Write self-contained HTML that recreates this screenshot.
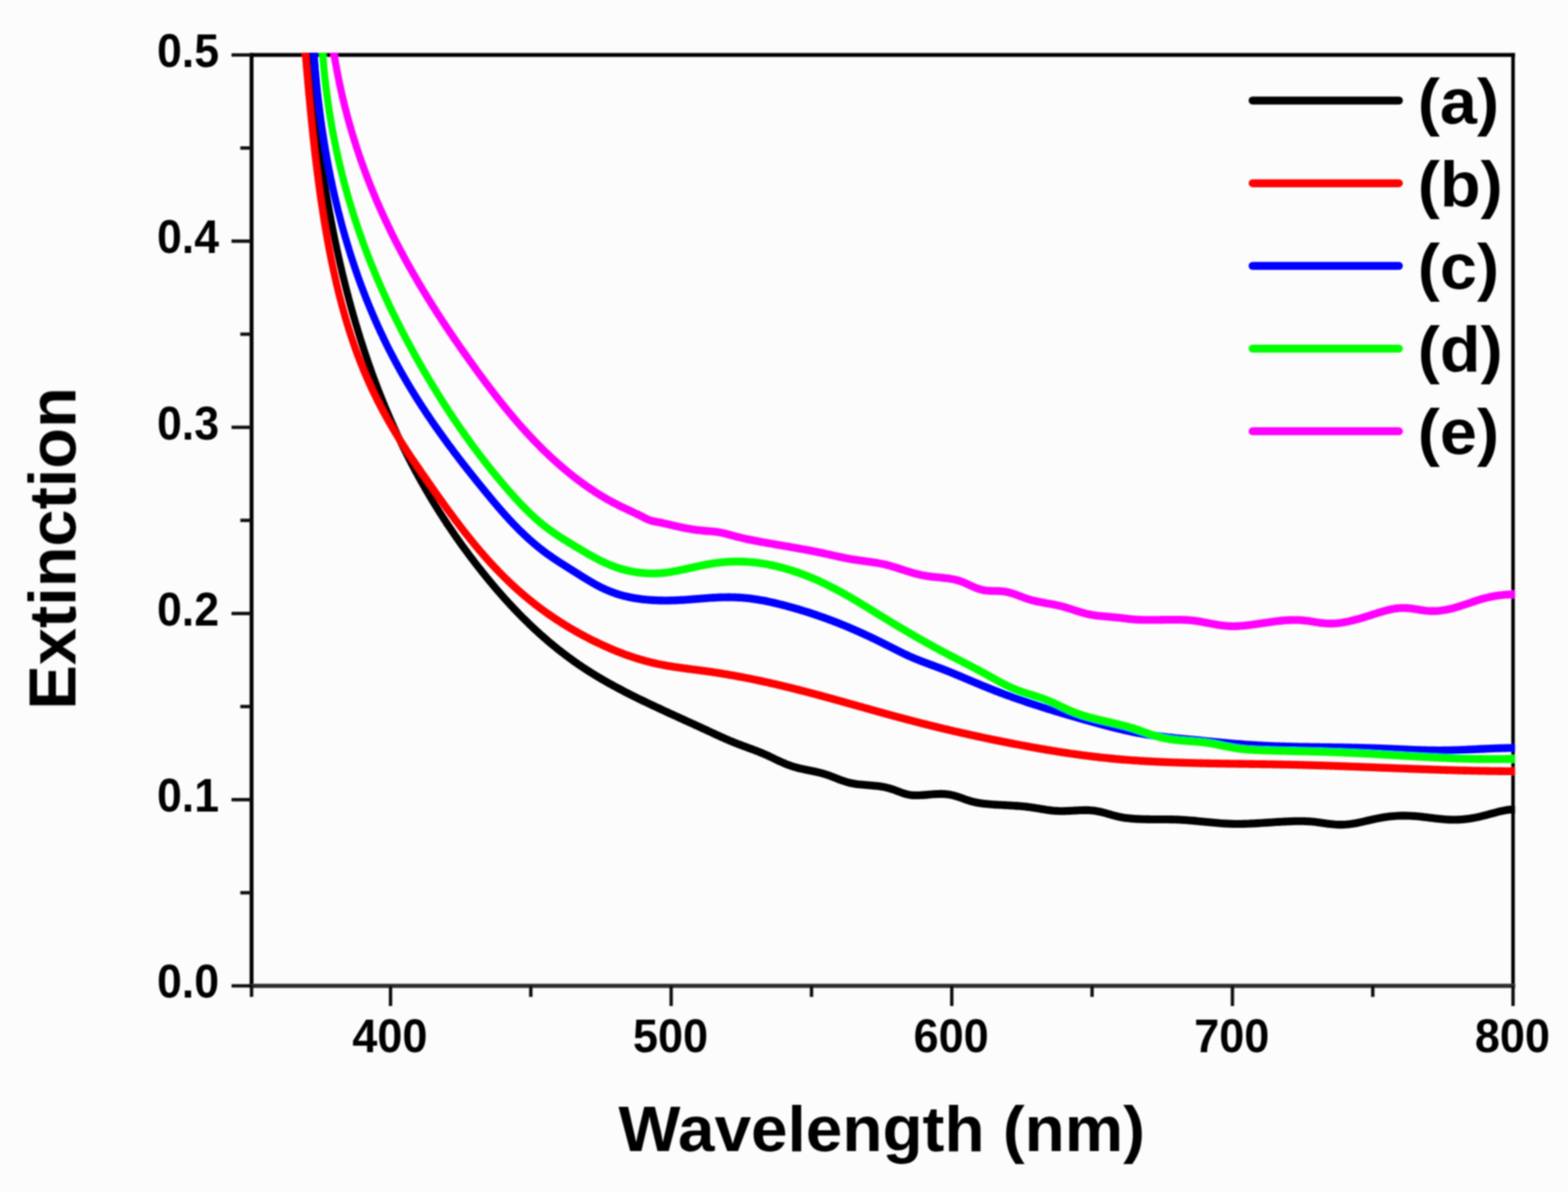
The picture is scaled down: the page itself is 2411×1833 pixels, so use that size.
<!DOCTYPE html>
<html><head><meta charset="utf-8"><title>Extinction spectra</title>
<style>
html,body{margin:0;padding:0;background:#fcfcfc;}
svg{display:block;}
text{font-family:"Liberation Sans",Arial,sans-serif;font-weight:bold;fill:#000;}
</style></head>
<body>
<svg width="2411" height="1833" viewBox="0 0 2411 1833" xmlns="http://www.w3.org/2000/svg">
<defs><filter id="soft" x="0" y="0" width="2411" height="1833" filterUnits="userSpaceOnUse"><feGaussianBlur stdDeviation="1.1"/></filter><clipPath id="plot"><rect x="383.8" y="81" width="1945.7" height="1435"/></clipPath></defs>
<rect width="2411" height="1833" fill="#fcfcfc"/>
<g filter="url(#soft)">
<g fill="none" stroke-linecap="square">
<line x1="386.8" y1="84.5" x2="2326.5" y2="84.5" stroke="#000" stroke-width="6"/>
<line x1="386.8" y1="84.5" x2="386.8" y2="1516" stroke="#000" stroke-width="6"/>
<line x1="2326.5" y1="84.5" x2="2326.5" y2="1516" stroke="#000" stroke-width="5.5"/>
<line x1="386.8" y1="1516" x2="2326.5" y2="1516" stroke="#2e2e2e" stroke-width="6.5"/>
</g>
<g stroke="#111" stroke-width="5.2">
<line x1="356" y1="1516.0" x2="386.8" y2="1516.0"/>
<line x1="369.5" y1="1372.8" x2="386.8" y2="1372.8"/>
<line x1="356" y1="1229.7" x2="386.8" y2="1229.7"/>
<line x1="369.5" y1="1086.5" x2="386.8" y2="1086.5"/>
<line x1="356" y1="943.4" x2="386.8" y2="943.4"/>
<line x1="369.5" y1="800.2" x2="386.8" y2="800.2"/>
<line x1="356" y1="657.1" x2="386.8" y2="657.1"/>
<line x1="369.5" y1="513.9" x2="386.8" y2="513.9"/>
<line x1="356" y1="370.8" x2="386.8" y2="370.8"/>
<line x1="369.5" y1="227.6" x2="386.8" y2="227.6"/>
<line x1="356" y1="84.5" x2="386.8" y2="84.5"/>
<line x1="386.8" y1="1516.0" x2="386.8" y2="1533"/>
<line x1="600.5" y1="1516.0" x2="600.5" y2="1547"/>
<line x1="816.2" y1="1516.0" x2="816.2" y2="1533"/>
<line x1="1032.0" y1="1516.0" x2="1032.0" y2="1547"/>
<line x1="1247.8" y1="1516.0" x2="1247.8" y2="1533"/>
<line x1="1463.5" y1="1516.0" x2="1463.5" y2="1547"/>
<line x1="1679.2" y1="1516.0" x2="1679.2" y2="1533"/>
<line x1="1895.0" y1="1516.0" x2="1895.0" y2="1547"/>
<line x1="2110.8" y1="1516.0" x2="2110.8" y2="1533"/>
<line x1="2326.5" y1="1516.0" x2="2326.5" y2="1547"/>
</g>
<g clip-path="url(#plot)"><g transform="scale(1,1.1)" fill="none" stroke-width="11.0" stroke-linejoin="round" stroke-linecap="round">
<path d="M474.8,53.17 L475.0,55.73 L475.1,58.29 L475.3,60.84 L475.5,63.39 L475.7,65.94 L475.9,68.49 L476.1,71.04 L476.3,73.58 L476.5,76.12 L476.7,78.66 L476.9,81.19 L477.2,83.73 L477.4,86.26 L477.6,88.79 L477.8,91.31 L478.0,93.84 L478.3,96.36 L478.5,98.88 L478.7,101.39 L479.0,103.91 L479.2,106.42 L479.4,108.93 L479.7,111.43 L479.9,113.94 L480.2,116.44 L480.4,118.94 L480.7,121.44 L480.9,123.93 L481.2,126.42 L481.5,128.91 L481.7,131.40 L482.0,133.88 L482.3,136.37 L482.5,138.85 L482.8,141.32 L483.1,143.80 L483.4,146.27 L483.6,148.74 L483.9,151.21 L484.2,153.67 L484.5,156.13 L484.8,158.59 L485.1,161.05 L485.4,163.51 L485.7,165.96 L486.0,168.41 L486.3,170.85 L486.6,173.30 L486.9,175.74 L487.3,178.18 L487.6,180.62 L487.9,183.05 L488.2,185.48 L488.6,187.91 L488.9,190.34 L489.2,192.76 L489.6,195.19 L489.9,197.60 L490.2,200.02 L490.6,202.43 L490.9,204.85 L491.3,207.25 L491.6,209.66 L492.0,212.06 L492.3,214.47 L492.7,216.86 L493.1,219.26 L493.4,221.65 L493.8,224.04 L494.2,226.43 L494.6,228.82 L494.9,231.20 L495.3,233.58 L495.7,235.96 L496.1,238.33 L496.5,240.70 L496.9,243.07 L497.3,245.44 L497.7,247.80 L498.1,250.17 L498.5,252.52 L498.9,254.88 L499.3,257.23 L499.7,259.59 L500.1,261.93 L500.6,264.28 L501.0,266.62 L501.4,268.96 L501.8,271.30 L502.3,273.64 L502.7,275.97 L503.1,278.30 L503.6,280.62 L504.0,282.95 L504.5,285.27 L504.9,287.59 L505.4,289.90 L505.8,292.22 L506.3,294.53 L506.7,296.84 L507.2,299.14 L507.7,301.44 L508.1,303.74 L508.6,306.04 L509.1,308.34 L509.6,310.63 L510.1,312.92 L510.5,315.20 L511.0,317.48 L511.5,319.77 L512.0,322.04 L512.5,324.32 L513.0,326.59 L513.5,328.86 L514.0,331.13 L514.5,333.39 L515.0,335.65 L515.6,337.91 L516.1,340.17 L516.6,342.42 L517.1,344.67 L517.7,346.91 L518.2,349.16 L518.7,351.40 L519.3,353.64 L519.8,355.88 L520.3,358.11 L520.9,360.34 L521.4,362.57 L522.0,364.79 L522.5,367.01 L523.1,369.23 L523.7,371.45 L524.2,373.66 L524.8,375.87 L525.4,378.08 L525.9,380.28 L526.5,382.48 L527.1,384.68 L527.7,386.88 L528.3,389.07 L528.9,391.26 L529.5,393.45 L530.1,395.63 L530.7,397.82 L531.3,400.00 L531.9,402.17 L532.5,404.34 L533.1,406.51 L533.7,408.68 L534.3,410.85 L535.0,413.01 L535.6,415.17 L536.2,417.32 L536.8,419.47 L537.5,421.62 L538.1,423.77 L538.8,425.91 L539.4,428.05 L540.0,430.19 L540.7,432.33 L541.4,434.46 L542.0,436.59 L542.7,438.71 L543.3,440.84 L544.0,442.96 L544.7,445.08 L545.4,447.19 L546.0,449.30 L546.7,451.41 L547.4,453.51 L548.1,455.62 L548.8,457.72 L549.5,459.81 L550.2,461.91 L550.9,464.00 L551.6,466.08 L552.3,468.17 L553.0,470.25 L553.7,472.33 L554.4,474.40 L555.1,476.48 L555.9,478.54 L556.6,480.61 L557.3,482.67 L558.1,484.73 L558.8,486.79 L559.5,488.85 L560.3,490.90 L561.0,492.94 L561.8,494.99 L562.5,497.03 L563.3,499.07 L564.0,501.11 L564.8,503.14 L565.6,505.17 L566.3,507.20 L567.1,509.22 L567.9,511.24 L568.7,513.26 L569.5,515.27 L570.2,517.28 L571.0,519.29 L571.8,521.29 L572.6,523.30 L573.4,525.29 L574.2,527.29 L575.0,529.28 L575.9,531.27 L576.7,533.26 L577.5,535.24 L578.3,537.22 L579.1,539.20 L580.0,541.17 L580.8,543.14 L581.6,545.11 L582.5,547.07 L583.3,549.04 L584.2,550.99 L585.0,552.95 L585.9,554.90 L586.7,556.85 L587.6,558.79 L588.5,560.74 L589.3,562.67 L590.2,564.61 L591.1,566.54 L591.9,568.47 L592.8,570.40 L593.7,572.32 L594.6,574.24 L595.5,576.16 L596.4,578.07 L597.3,579.98 L598.2,581.89 L599.1,583.79 L600.0,585.69 L600.9,587.59 L601.8,589.48 L602.7,591.37 L603.7,593.26 L604.6,595.15 L605.5,597.03 L606.5,598.90 L607.4,600.78 L608.3,602.65 L609.3,604.52 L610.2,606.38 L611.2,608.24 L612.1,610.10 L613.1,611.96 L614.1,613.81 L615.0,615.66 L616.0,617.50 L617.0,619.35 L618.0,621.19 L618.9,623.02 L619.9,624.85 L620.9,626.68 L621.9,628.51 L622.9,630.33 L623.9,632.15 L624.9,633.97 L625.9,635.78 L626.9,637.59 L627.9,639.40 L628.9,641.20 L630.0,643.01 L631.0,644.80 L632.0,646.60 L633.0,648.39 L634.1,650.18 L635.1,651.96 L636.1,653.74 L637.2,655.52 L638.2,657.30 L639.3,659.07 L640.3,660.84 L641.4,662.61 L642.5,664.37 L643.5,666.13 L644.6,667.89 L645.7,669.64 L646.7,671.39 L647.8,673.14 L648.9,674.88 L650.0,676.62 L651.1,678.36 L652.2,680.10 L653.2,681.83 L654.3,683.56 L655.4,685.28 L656.6,687.01 L657.7,688.73 L658.8,690.44 L659.9,692.16 L661.0,693.87 L662.1,695.58 L663.3,697.28 L664.4,698.98 L665.5,700.68 L666.6,702.38 L667.8,704.07 L668.9,705.76 L670.1,707.44 L671.2,709.13 L672.4,710.81 L673.5,712.48 L674.7,714.16 L675.8,715.83 L677.0,717.50 L678.2,719.16 L679.4,720.83 L680.5,722.48 L681.7,724.14 L682.9,725.79 L684.1,727.44 L685.3,729.09 L686.4,730.74 L687.6,732.38 L688.8,734.02 L690.0,735.65 L691.2,737.28 L692.5,738.91 L693.7,740.54 L694.9,742.16 L696.1,743.78 L697.3,745.40 L698.5,747.02 L699.8,748.63 L701.0,750.24 L702.2,751.84 L703.5,753.45 L704.7,755.05 L706.0,756.64 L707.2,758.24 L708.4,759.83 L709.7,761.42 L711.0,763.00 L712.2,764.58 L713.5,766.16 L714.7,767.74 L716.0,769.32 L717.3,770.89 L718.6,772.45 L719.8,774.02 L721.1,775.58 L722.4,777.14 L723.7,778.70 L725.0,780.25 L726.3,781.80 L727.6,783.35 L728.9,784.90 L730.2,786.44 L731.5,787.98 L732.8,789.52 L734.1,791.05 L735.4,792.58 L736.7,794.11 L738.1,795.63 L739.4,797.16 L740.7,798.68 L742.0,800.19 L743.4,801.71 L744.7,803.22 L746.1,804.73 L747.4,806.23 L748.8,807.74 L750.1,809.24 L751.5,810.73 L752.8,812.23 L754.2,813.72 L755.5,815.20 L756.9,816.69 L758.3,818.17 L759.6,819.65 L761.0,821.12 L762.4,822.59 L763.8,824.06 L765.2,825.53 L766.6,826.99 L768.0,828.45 L769.4,829.90 L770.8,831.35 L772.2,832.80 L773.6,834.25 L775.0,835.69 L776.4,837.13 L777.8,838.56 L779.3,839.99 L780.7,841.42 L782.1,842.84 L783.6,844.26 L785.0,845.68 L786.5,847.09 L787.9,848.50 L789.4,849.91 L790.8,851.31 L792.3,852.70 L793.8,854.10 L795.2,855.49 L796.7,856.87 L798.2,858.26 L799.7,859.63 L801.2,861.01 L802.6,862.38 L804.1,863.74 L805.6,865.10 L807.2,866.46 L808.7,867.82 L810.2,869.17 L811.7,870.51 L813.2,871.85 L814.8,873.19 L816.3,874.52 L817.8,875.85 L819.4,877.17 L820.9,878.49 L822.5,879.81 L824.0,881.12 L825.6,882.42 L827.2,883.72 L828.7,885.02 L830.3,886.31 L831.9,887.60 L833.5,888.89 L835.1,890.16 L836.7,891.44 L838.3,892.71 L839.9,893.97 L841.5,895.23 L843.1,896.49 L844.7,897.74 L846.4,898.98 L848.0,900.22 L849.7,901.46 L851.3,902.69 L853.0,903.92 L854.6,905.14 L856.3,906.35 L857.9,907.56 L859.6,908.77 L861.3,909.97 L863.0,911.17 L864.7,912.36 L866.4,913.54 L868.1,914.72 L869.8,915.90 L871.5,917.07 L873.2,918.23 L874.9,919.39 L876.7,920.54 L878.4,921.69 L880.1,922.83 L881.9,923.97 L883.6,925.10 L885.4,926.23 L887.2,927.35 L888.9,928.47 L890.7,929.58 L892.5,930.68 L894.3,931.78 L896.1,932.87 L897.9,933.96 L899.7,935.04 L901.5,936.12 L903.4,937.19 L905.2,938.25 L907.0,939.31 L908.9,940.36 L910.7,941.41 L912.6,942.45 L914.4,943.49 L916.3,944.52 L918.2,945.55 L920.0,946.57 L921.9,947.58 L923.8,948.59 L925.7,949.60 L927.6,950.60 L929.5,951.60 L931.4,952.59 L933.3,953.58 L935.2,954.56 L937.2,955.54 L939.1,956.51 L941.0,957.48 L943.0,958.44 L944.9,959.41 L946.9,960.36 L948.8,961.32 L950.8,962.27 L952.7,963.21 L954.7,964.15 L956.7,965.09 L958.6,966.02 L960.6,966.96 L962.6,967.88 L964.6,968.81 L966.6,969.73 L968.5,970.65 L970.5,971.56 L972.5,972.47 L974.5,973.38 L976.5,974.29 L978.6,975.19 L980.6,976.09 L982.6,976.99 L984.6,977.88 L986.6,978.77 L988.6,979.66 L990.7,980.55 L992.7,981.44 L994.7,982.32 L996.7,983.20 L998.8,984.08 L1000.8,984.96 L1002.8,985.83 L1004.9,986.70 L1006.9,987.57 L1009.0,988.44 L1011.0,989.31 L1013.1,990.18 L1015.1,991.05 L1017.2,991.91 L1019.2,992.77 L1021.3,993.63 L1023.3,994.49 L1025.4,995.35 L1027.4,996.21 L1029.5,997.07 L1031.5,997.93 L1033.6,998.78 L1035.7,999.64 L1037.7,1000.49 L1039.8,1001.35 L1041.8,1002.20 L1043.9,1003.05 L1046.0,1003.91 L1048.0,1004.76 L1050.1,1005.61 L1052.1,1006.47 L1054.2,1007.32 L1056.3,1008.17 L1058.3,1009.03 L1060.4,1009.88 L1062.4,1010.74 L1064.5,1011.59 L1066.6,1012.45 L1068.6,1013.30 L1070.7,1014.16 L1072.7,1015.01 L1074.8,1015.87 L1076.9,1016.73 L1078.9,1017.59 L1081.0,1018.45 L1083.0,1019.31 L1085.1,1020.18 L1087.1,1021.04 L1089.2,1021.91 L1091.2,1022.77 L1093.3,1023.64 L1095.3,1024.51 L1097.4,1025.37 L1099.4,1026.23 L1101.5,1027.10 L1103.5,1027.95 L1105.6,1028.81 L1107.6,1029.66 L1109.7,1030.51 L1111.8,1031.35 L1113.8,1032.19 L1115.9,1033.03 L1118.0,1033.85 L1120.1,1034.67 L1122.2,1035.49 L1124.3,1036.29 L1126.5,1037.09 L1128.6,1037.88 L1130.7,1038.66 L1132.9,1039.42 L1135.1,1040.18 L1137.2,1040.94 L1139.4,1041.68 L1141.6,1042.42 L1143.8,1043.16 L1146.0,1043.89 L1148.2,1044.62 L1150.4,1045.35 L1152.6,1046.08 L1154.8,1046.82 L1156.9,1047.55 L1159.1,1048.30 L1161.3,1049.05 L1163.5,1049.80 L1165.6,1050.57 L1167.8,1051.34 L1169.9,1052.13 L1172.0,1052.93 L1174.1,1053.75 L1176.2,1054.58 L1178.3,1055.42 L1180.4,1056.28 L1182.4,1057.14 L1184.4,1058.02 L1186.5,1058.90 L1188.5,1059.78 L1190.5,1060.67 L1192.6,1061.55 L1194.6,1062.43 L1196.6,1063.30 L1198.7,1064.17 L1200.7,1065.02 L1202.8,1065.86 L1204.9,1066.69 L1207.0,1067.50 L1209.1,1068.29 L1211.3,1069.06 L1213.5,1069.80 L1215.7,1070.52 L1217.9,1071.21 L1220.2,1071.86 L1222.5,1072.49 L1224.9,1073.08 L1227.3,1073.64 L1229.7,1074.17 L1232.1,1074.68 L1234.6,1075.17 L1237.0,1075.65 L1239.5,1076.12 L1242.0,1076.58 L1244.5,1077.04 L1247.0,1077.50 L1249.5,1077.96 L1252.0,1078.43 L1254.5,1078.91 L1256.9,1079.41 L1259.3,1079.93 L1261.7,1080.48 L1264.1,1081.05 L1266.4,1081.65 L1268.7,1082.29 L1271.0,1082.96 L1273.2,1083.66 L1275.4,1084.38 L1277.6,1085.12 L1279.8,1085.88 L1282.0,1086.64 L1284.1,1087.41 L1286.3,1088.17 L1288.4,1088.94 L1290.6,1089.69 L1292.8,1090.43 L1295.0,1091.15 L1297.2,1091.85 L1299.5,1092.52 L1301.8,1093.16 L1304.1,1093.76 L1306.5,1094.32 L1308.9,1094.83 L1311.4,1095.30 L1314.0,1095.70 L1316.6,1096.06 L1319.2,1096.38 L1321.9,1096.65 L1324.7,1096.90 L1327.4,1097.12 L1330.2,1097.33 L1333.0,1097.52 L1335.8,1097.71 L1338.6,1097.90 L1341.3,1098.11 L1344.1,1098.33 L1346.8,1098.57 L1349.5,1098.84 L1352.2,1099.15 L1354.8,1099.50 L1357.4,1099.90 L1359.9,1100.35 L1362.3,1100.85 L1364.7,1101.39 L1367.1,1101.98 L1369.4,1102.61 L1371.7,1103.26 L1373.9,1103.94 L1376.1,1104.65 L1378.3,1105.38 L1380.5,1106.12 L1382.7,1106.87 L1384.9,1107.61 L1387.1,1108.34 L1389.3,1109.03 L1391.6,1109.67 L1394.0,1110.26 L1396.4,1110.77 L1398.9,1111.20 L1401.6,1111.52 L1404.3,1111.74 L1407.2,1111.84 L1410.2,1111.86 L1413.3,1111.79 L1416.4,1111.65 L1419.6,1111.47 L1422.9,1111.24 L1426.2,1111.00 L1429.4,1110.74 L1432.7,1110.50 L1436.0,1110.27 L1439.2,1110.08 L1442.3,1109.94 L1445.4,1109.86 L1448.4,1109.86 L1451.3,1109.95 L1454.1,1110.14 L1456.8,1110.41 L1459.4,1110.77 L1461.9,1111.19 L1464.4,1111.68 L1466.8,1112.22 L1469.2,1112.82 L1471.5,1113.45 L1473.7,1114.11 L1476.0,1114.80 L1478.2,1115.51 L1480.4,1116.23 L1482.6,1116.95 L1484.8,1117.66 L1487.1,1118.36 L1489.3,1119.04 L1491.6,1119.69 L1493.9,1120.30 L1496.3,1120.87 L1498.7,1121.39 L1501.2,1121.86 L1503.7,1122.29 L1506.3,1122.68 L1508.9,1123.03 L1511.6,1123.35 L1514.3,1123.64 L1517.0,1123.90 L1519.7,1124.13 L1522.5,1124.34 L1525.3,1124.53 L1528.1,1124.71 L1530.9,1124.87 L1533.7,1125.02 L1536.6,1125.16 L1539.4,1125.30 L1542.3,1125.44 L1545.1,1125.58 L1548.0,1125.72 L1550.8,1125.86 L1553.6,1126.01 L1556.5,1126.17 L1559.3,1126.33 L1562.1,1126.51 L1564.9,1126.69 L1567.7,1126.89 L1570.4,1127.11 L1573.2,1127.34 L1575.9,1127.58 L1578.6,1127.85 L1581.3,1128.14 L1584.0,1128.45 L1586.6,1128.78 L1589.2,1129.13 L1591.8,1129.51 L1594.4,1129.89 L1596.9,1130.28 L1599.5,1130.68 L1602.1,1131.07 L1604.7,1131.46 L1607.2,1131.84 L1609.8,1132.19 L1612.5,1132.53 L1615.1,1132.84 L1617.8,1133.12 L1620.6,1133.36 L1623.3,1133.56 L1626.2,1133.71 L1629.1,1133.82 L1632.0,1133.86 L1635.0,1133.85 L1638.1,1133.79 L1641.2,1133.69 L1644.3,1133.55 L1647.5,1133.40 L1650.7,1133.24 L1653.9,1133.07 L1657.0,1132.92 L1660.2,1132.78 L1663.3,1132.67 L1666.4,1132.60 L1669.4,1132.58 L1672.4,1132.62 L1675.3,1132.72 L1678.1,1132.90 L1680.8,1133.15 L1683.5,1133.46 L1686.0,1133.83 L1688.6,1134.26 L1691.1,1134.73 L1693.5,1135.24 L1695.9,1135.78 L1698.3,1136.35 L1700.6,1136.93 L1703.0,1137.54 L1705.3,1138.15 L1707.6,1138.76 L1710.0,1139.37 L1712.3,1139.96 L1714.7,1140.54 L1717.1,1141.09 L1719.5,1141.61 L1721.9,1142.10 L1724.5,1142.54 L1727.0,1142.95 L1729.6,1143.31 L1732.3,1143.64 L1734.9,1143.93 L1737.7,1144.18 L1740.4,1144.41 L1743.2,1144.61 L1746.0,1144.78 L1748.8,1144.92 L1751.7,1145.04 L1754.6,1145.14 L1757.5,1145.23 L1760.4,1145.29 L1763.4,1145.34 L1766.3,1145.38 L1769.3,1145.40 L1772.3,1145.42 L1775.3,1145.43 L1778.3,1145.44 L1781.3,1145.45 L1784.3,1145.45 L1787.3,1145.46 L1790.2,1145.47 L1793.2,1145.48 L1796.2,1145.51 L1799.2,1145.54 L1802.1,1145.59 L1805.0,1145.65 L1808.0,1145.72 L1810.9,1145.82 L1813.7,1145.93 L1816.6,1146.07 L1819.4,1146.22 L1822.2,1146.38 L1825.0,1146.57 L1827.8,1146.76 L1830.6,1146.97 L1833.4,1147.18 L1836.1,1147.41 L1838.9,1147.64 L1841.6,1147.88 L1844.3,1148.13 L1847.0,1148.38 L1849.8,1148.63 L1852.5,1148.88 L1855.2,1149.12 L1858.0,1149.37 L1860.7,1149.61 L1863.4,1149.85 L1866.2,1150.08 L1868.9,1150.30 L1871.7,1150.52 L1874.5,1150.72 L1877.3,1150.91 L1880.1,1151.08 L1882.9,1151.24 L1885.7,1151.38 L1888.6,1151.51 L1891.5,1151.62 L1894.4,1151.70 L1897.3,1151.76 L1900.3,1151.80 L1903.3,1151.81 L1906.3,1151.80 L1909.3,1151.76 L1912.4,1151.71 L1915.5,1151.63 L1918.6,1151.53 L1921.7,1151.42 L1924.8,1151.29 L1928.0,1151.14 L1931.2,1150.99 L1934.4,1150.82 L1937.5,1150.65 L1940.7,1150.47 L1943.9,1150.28 L1947.2,1150.09 L1950.4,1149.90 L1953.6,1149.71 L1956.8,1149.52 L1960.0,1149.34 L1963.2,1149.15 L1966.4,1148.98 L1969.6,1148.81 L1972.7,1148.66 L1975.9,1148.51 L1979.0,1148.38 L1982.2,1148.26 L1985.3,1148.17 L1988.4,1148.08 L1991.4,1148.02 L1994.5,1147.98 L1997.5,1147.97 L2000.5,1147.98 L2003.4,1148.02 L2006.4,1148.08 L2009.3,1148.18 L2012.1,1148.30 L2014.9,1148.46 L2017.7,1148.66 L2020.5,1148.89 L2023.2,1149.16 L2025.8,1149.46 L2028.5,1149.79 L2031.1,1150.13 L2033.7,1150.47 L2036.4,1150.82 L2039.0,1151.17 L2041.6,1151.50 L2044.3,1151.81 L2047.0,1152.10 L2049.7,1152.35 L2052.4,1152.56 L2055.3,1152.72 L2058.1,1152.83 L2061.1,1152.87 L2064.1,1152.85 L2067.2,1152.74 L2070.4,1152.56 L2073.7,1152.28 L2077.2,1151.91 L2080.7,1151.43 L2084.3,1150.85 L2088.0,1150.19 L2091.8,1149.47 L2095.7,1148.70 L2099.6,1147.90 L2103.5,1147.08 L2107.4,1146.26 L2111.2,1145.46 L2115.1,1144.70 L2118.9,1143.99 L2122.6,1143.34 L2126.2,1142.76 L2129.8,1142.25 L2133.3,1141.81 L2136.7,1141.43 L2140.0,1141.11 L2143.3,1140.85 L2146.6,1140.64 L2149.7,1140.49 L2152.8,1140.38 L2155.9,1140.32 L2158.9,1140.30 L2161.9,1140.33 L2164.8,1140.39 L2167.7,1140.49 L2170.6,1140.62 L2173.4,1140.77 L2176.2,1140.96 L2179.0,1141.17 L2181.7,1141.40 L2184.4,1141.66 L2187.1,1141.92 L2189.8,1142.20 L2192.5,1142.49 L2195.2,1142.79 L2197.9,1143.09 L2200.5,1143.40 L2203.2,1143.70 L2205.9,1144.00 L2208.5,1144.29 L2211.2,1144.57 L2213.9,1144.84 L2216.7,1145.08 L2219.4,1145.30 L2222.2,1145.49 L2225.0,1145.65 L2227.9,1145.78 L2230.8,1145.87 L2233.8,1145.92 L2236.7,1145.92 L2239.8,1145.87 L2242.9,1145.77 L2246.1,1145.62 L2249.3,1145.40 L2252.6,1145.12 L2256.0,1144.77 L2259.5,1144.36 L2263.0,1143.86 L2266.6,1143.29 L2270.4,1142.64 L2274.2,1141.90 L2278.1,1141.07 L2282.1,1140.16 L2286.2,1139.18 L2290.3,1138.17 L2294.4,1137.15 L2298.5,1136.15 L2302.6,1135.18 L2306.5,1134.29 L2310.4,1133.49 L2314.2,1132.80 L2317.8,1132.26 L2321.2,1131.89 L2324.4,1131.72 L2327.3,1131.77 L2329.8,1132.02" stroke="#000000"/>
<path d="M467.8,55.33 L468.0,57.85 L468.2,60.37 L468.5,62.89 L468.7,65.41 L468.9,67.93 L469.2,70.45 L469.4,72.97 L469.6,75.49 L469.8,78.01 L470.1,80.52 L470.3,83.04 L470.5,85.56 L470.8,88.07 L471.0,90.58 L471.2,93.10 L471.5,95.61 L471.7,98.12 L472.0,100.63 L472.2,103.14 L472.4,105.65 L472.7,108.16 L472.9,110.67 L473.2,113.18 L473.4,115.68 L473.6,118.19 L473.9,120.69 L474.1,123.20 L474.4,125.70 L474.6,128.20 L474.9,130.70 L475.1,133.20 L475.4,135.69 L475.6,138.19 L475.9,140.68 L476.2,143.18 L476.4,145.67 L476.7,148.16 L476.9,150.65 L477.2,153.14 L477.5,155.63 L477.7,158.11 L478.0,160.60 L478.3,163.08 L478.5,165.56 L478.8,168.04 L479.1,170.52 L479.4,172.99 L479.6,175.47 L479.9,177.94 L480.2,180.41 L480.5,182.88 L480.8,185.35 L481.1,187.82 L481.3,190.29 L481.6,192.75 L481.9,195.21 L482.2,197.67 L482.5,200.13 L482.8,202.58 L483.1,205.04 L483.4,207.49 L483.7,209.94 L484.0,212.39 L484.3,214.83 L484.6,217.28 L485.0,219.72 L485.3,222.16 L485.6,224.60 L485.9,227.03 L486.2,229.47 L486.6,231.90 L486.9,234.33 L487.2,236.75 L487.6,239.18 L487.9,241.60 L488.2,244.02 L488.6,246.44 L488.9,248.85 L489.3,251.27 L489.6,253.68 L490.0,256.08 L490.3,258.49 L490.7,260.89 L491.0,263.29 L491.4,265.69 L491.8,268.09 L492.1,270.48 L492.5,272.87 L492.9,275.26 L493.2,277.64 L493.6,280.02 L494.0,282.40 L494.4,284.78 L494.8,287.15 L495.2,289.53 L495.6,291.89 L496.0,294.26 L496.4,296.62 L496.8,298.98 L497.2,301.34 L497.6,303.69 L498.0,306.04 L498.4,308.39 L498.8,310.73 L499.3,313.08 L499.7,315.41 L500.1,317.75 L500.6,320.08 L501.0,322.41 L501.4,324.74 L501.9,327.06 L502.3,329.38 L502.8,331.69 L503.2,334.01 L503.7,336.32 L504.2,338.62 L504.6,340.92 L505.1,343.22 L505.6,345.52 L506.1,347.81 L506.5,350.10 L507.0,352.39 L507.5,354.67 L508.0,356.95 L508.5,359.22 L509.0,361.49 L509.5,363.76 L510.0,366.02 L510.5,368.28 L511.1,370.54 L511.6,372.79 L512.1,375.04 L512.6,377.28 L513.2,379.53 L513.7,381.76 L514.3,384.00 L514.8,386.23 L515.4,388.45 L515.9,390.67 L516.5,392.89 L517.0,395.10 L517.6,397.31 L518.2,399.52 L518.8,401.72 L519.3,403.92 L519.9,406.11 L520.5,408.30 L521.1,410.48 L521.7,412.66 L522.3,414.84 L522.9,417.01 L523.6,419.18 L524.2,421.34 L524.8,423.50 L525.4,425.66 L526.1,427.81 L526.7,429.95 L527.4,432.09 L528.0,434.23 L528.7,436.36 L529.3,438.49 L530.0,440.61 L530.6,442.73 L531.3,444.85 L532.0,446.96 L532.7,449.06 L533.4,451.16 L534.1,453.26 L534.8,455.35 L535.5,457.43 L536.2,459.51 L536.9,461.59 L537.6,463.66 L538.4,465.73 L539.1,467.79 L539.8,469.85 L540.6,471.90 L541.3,473.94 L542.1,475.99 L542.8,478.02 L543.6,480.06 L544.4,482.08 L545.1,484.10 L545.9,486.12 L546.7,488.13 L547.5,490.14 L548.3,492.14 L549.1,494.13 L549.9,496.12 L550.7,498.11 L551.6,500.09 L552.4,502.06 L553.2,504.03 L554.1,506.00 L554.9,507.95 L555.8,509.91 L556.6,511.85 L557.5,513.80 L558.3,515.73 L559.2,517.66 L560.1,519.59 L561.0,521.51 L561.9,523.43 L562.8,525.34 L563.7,527.24 L564.6,529.14 L565.5,531.03 L566.4,532.92 L567.4,534.81 L568.3,536.69 L569.2,538.56 L570.2,540.43 L571.1,542.29 L572.1,544.15 L573.0,546.00 L574.0,547.85 L575.0,549.70 L576.0,551.53 L576.9,553.37 L577.9,555.20 L578.9,557.02 L579.9,558.84 L580.9,560.65 L581.9,562.46 L583.0,564.27 L584.0,566.07 L585.0,567.86 L586.0,569.65 L587.1,571.44 L588.1,573.22 L589.2,574.99 L590.2,576.77 L591.3,578.53 L592.3,580.30 L593.4,582.05 L594.5,583.81 L595.5,585.55 L596.6,587.30 L597.7,589.04 L598.8,590.77 L599.9,592.50 L601.0,594.23 L602.1,595.95 L603.2,597.67 L604.3,599.38 L605.5,601.09 L606.6,602.79 L607.7,604.49 L608.8,606.19 L610.0,607.88 L611.1,609.57 L612.3,611.25 L613.4,612.93 L614.6,614.61 L615.7,616.28 L616.9,617.95 L618.1,619.62 L619.2,621.28 L620.4,622.94 L621.6,624.60 L622.8,626.25 L624.0,627.90 L625.1,629.55 L626.3,631.19 L627.5,632.84 L628.7,634.48 L629.9,636.12 L631.1,637.75 L632.3,639.38 L633.5,641.02 L634.7,642.64 L636.0,644.27 L637.2,645.90 L638.4,647.52 L639.6,649.14 L640.8,650.76 L642.0,652.38 L643.3,654.00 L644.5,655.61 L645.7,657.23 L646.9,658.84 L648.2,660.46 L649.4,662.07 L650.6,663.68 L651.8,665.29 L653.1,666.90 L654.3,668.51 L655.5,670.12 L656.8,671.73 L658.0,673.33 L659.2,674.94 L660.5,676.55 L661.7,678.15 L662.9,679.76 L664.2,681.36 L665.4,682.97 L666.6,684.57 L667.9,686.17 L669.1,687.77 L670.3,689.37 L671.6,690.97 L672.8,692.57 L674.1,694.16 L675.3,695.76 L676.6,697.35 L677.8,698.95 L679.1,700.54 L680.3,702.13 L681.6,703.71 L682.8,705.30 L684.1,706.88 L685.3,708.47 L686.6,710.05 L687.9,711.63 L689.1,713.21 L690.4,714.78 L691.7,716.36 L692.9,717.93 L694.2,719.50 L695.5,721.07 L696.8,722.63 L698.0,724.20 L699.3,725.76 L700.6,727.32 L701.9,728.87 L703.2,730.43 L704.5,731.98 L705.8,733.53 L707.1,735.08 L708.4,736.62 L709.7,738.16 L711.0,739.70 L712.3,741.24 L713.6,742.77 L714.9,744.30 L716.2,745.83 L717.6,747.36 L718.9,748.88 L720.2,750.40 L721.5,751.91 L722.9,753.43 L724.2,754.94 L725.6,756.44 L726.9,757.95 L728.3,759.45 L729.6,760.94 L731.0,762.43 L732.3,763.92 L733.7,765.41 L735.1,766.89 L736.4,768.37 L737.8,769.84 L739.2,771.32 L740.6,772.78 L742.0,774.25 L743.4,775.71 L744.8,777.16 L746.2,778.61 L747.6,780.06 L749.0,781.50 L750.4,782.94 L751.8,784.38 L753.3,785.81 L754.7,787.23 L756.1,788.66 L757.6,790.07 L759.0,791.49 L760.5,792.90 L761.9,794.30 L763.4,795.70 L764.9,797.09 L766.3,798.48 L767.8,799.87 L769.3,801.25 L770.8,802.63 L772.3,804.00 L773.8,805.36 L775.3,806.72 L776.8,808.08 L778.3,809.43 L779.8,810.77 L781.3,812.11 L782.9,813.45 L784.4,814.78 L785.9,816.10 L787.5,817.42 L789.0,818.73 L790.6,820.04 L792.2,821.34 L793.8,822.64 L795.3,823.93 L796.9,825.21 L798.5,826.49 L800.1,827.77 L801.7,829.03 L803.3,830.30 L804.9,831.55 L806.6,832.80 L808.2,834.05 L809.8,835.29 L811.5,836.52 L813.1,837.75 L814.8,838.97 L816.4,840.19 L818.1,841.40 L819.8,842.61 L821.5,843.81 L823.2,845.00 L824.8,846.19 L826.5,847.37 L828.3,848.55 L830.0,849.72 L831.7,850.88 L833.4,852.04 L835.1,853.19 L836.9,854.34 L838.6,855.48 L840.4,856.62 L842.1,857.75 L843.9,858.87 L845.7,859.99 L847.4,861.10 L849.2,862.21 L851.0,863.31 L852.8,864.41 L854.6,865.49 L856.4,866.58 L858.2,867.65 L860.1,868.73 L861.9,869.79 L863.7,870.85 L865.6,871.90 L867.4,872.95 L869.3,873.99 L871.1,875.03 L873.0,876.06 L874.9,877.08 L876.7,878.10 L878.6,879.11 L880.5,880.11 L882.4,881.11 L884.3,882.11 L886.2,883.09 L888.2,884.08 L890.1,885.05 L892.0,886.02 L894.0,886.98 L895.9,887.94 L897.9,888.89 L899.8,889.84 L901.8,890.78 L903.8,891.71 L905.8,892.63 L907.7,893.55 L909.7,894.47 L911.7,895.38 L913.7,896.28 L915.8,897.17 L917.8,898.06 L919.8,898.95 L921.8,899.82 L923.9,900.70 L925.9,901.56 L928.0,902.42 L930.1,903.27 L932.1,904.12 L934.2,904.96 L936.3,905.79 L938.4,906.61 L940.5,907.43 L942.6,908.24 L944.7,909.04 L946.8,909.83 L949.0,910.62 L951.1,911.40 L953.3,912.16 L955.4,912.92 L957.6,913.67 L959.8,914.42 L962.0,915.15 L964.2,915.87 L966.4,916.58 L968.6,917.29 L970.9,917.98 L973.1,918.66 L975.4,919.33 L977.7,919.99 L979.9,920.64 L982.2,921.28 L984.6,921.91 L986.9,922.53 L989.2,923.13 L991.6,923.72 L993.9,924.31 L996.3,924.87 L998.7,925.43 L1001.1,925.97 L1003.5,926.50 L1005.9,927.02 L1008.4,927.53 L1010.8,928.02 L1013.3,928.49 L1015.8,928.96 L1018.3,929.41 L1020.8,929.84 L1023.4,930.26 L1025.9,930.67 L1028.5,931.07 L1031.1,931.46 L1033.6,931.83 L1036.2,932.20 L1038.8,932.56 L1041.5,932.91 L1044.1,933.25 L1046.7,933.59 L1049.3,933.92 L1052.0,934.24 L1054.6,934.56 L1057.3,934.88 L1059.9,935.20 L1062.6,935.51 L1065.2,935.82 L1067.9,936.14 L1070.6,936.45 L1073.2,936.76 L1075.9,937.08 L1078.5,937.40 L1081.2,937.72 L1083.8,938.05 L1086.4,938.38 L1089.1,938.71 L1091.7,939.06 L1094.3,939.40 L1096.9,939.76 L1099.5,940.11 L1102.1,940.48 L1104.7,940.85 L1107.3,941.22 L1109.9,941.60 L1112.5,941.98 L1115.0,942.37 L1117.6,942.76 L1120.2,943.16 L1122.7,943.56 L1125.3,943.97 L1127.8,944.38 L1130.4,944.80 L1132.9,945.22 L1135.4,945.65 L1138.0,946.08 L1140.5,946.51 L1143.0,946.95 L1145.5,947.39 L1148.0,947.84 L1150.5,948.29 L1153.0,948.75 L1155.5,949.21 L1158.0,949.67 L1160.5,950.14 L1163.0,950.61 L1165.5,951.08 L1167.9,951.56 L1170.4,952.04 L1172.9,952.53 L1175.3,953.02 L1177.8,953.51 L1180.2,954.01 L1182.7,954.50 L1185.1,955.01 L1187.6,955.51 L1190.0,956.02 L1192.5,956.53 L1194.9,957.05 L1197.3,957.57 L1199.8,958.09 L1202.2,958.61 L1204.6,959.14 L1207.0,959.67 L1209.4,960.20 L1211.8,960.74 L1214.2,961.28 L1216.7,961.82 L1219.1,962.36 L1221.5,962.91 L1223.9,963.46 L1226.2,964.01 L1228.6,964.56 L1231.0,965.11 L1233.4,965.67 L1235.8,966.23 L1238.2,966.79 L1240.6,967.35 L1242.9,967.92 L1245.3,968.49 L1247.7,969.06 L1250.1,969.63 L1252.4,970.20 L1254.8,970.77 L1257.2,971.35 L1259.5,971.93 L1261.9,972.50 L1264.3,973.08 L1266.6,973.67 L1269.0,974.25 L1271.3,974.83 L1273.7,975.42 L1276.0,976.01 L1278.4,976.59 L1280.8,977.18 L1283.1,977.77 L1285.5,978.36 L1287.8,978.95 L1290.2,979.55 L1292.5,980.14 L1294.8,980.73 L1297.2,981.33 L1299.5,981.92 L1301.9,982.52 L1304.2,983.11 L1306.6,983.71 L1308.9,984.31 L1311.3,984.90 L1313.6,985.50 L1315.9,986.10 L1318.3,986.70 L1320.6,987.29 L1323.0,987.89 L1325.3,988.49 L1327.7,989.09 L1330.0,989.68 L1332.3,990.28 L1334.7,990.88 L1337.0,991.47 L1339.4,992.07 L1341.7,992.67 L1344.1,993.26 L1346.4,993.86 L1348.8,994.45 L1351.1,995.04 L1353.5,995.64 L1355.8,996.23 L1358.2,996.82 L1360.5,997.41 L1362.9,998.00 L1365.2,998.59 L1367.6,999.17 L1369.9,999.76 L1372.3,1000.35 L1374.6,1000.93 L1377.0,1001.51 L1379.4,1002.09 L1381.7,1002.67 L1384.1,1003.25 L1386.4,1003.83 L1388.8,1004.40 L1391.2,1004.98 L1393.6,1005.55 L1395.9,1006.12 L1398.3,1006.69 L1400.7,1007.25 L1403.1,1007.82 L1405.4,1008.38 L1407.8,1008.94 L1410.2,1009.50 L1412.6,1010.05 L1415.0,1010.61 L1417.4,1011.16 L1419.8,1011.71 L1422.2,1012.26 L1424.6,1012.81 L1427.0,1013.35 L1429.4,1013.90 L1431.8,1014.44 L1434.2,1014.98 L1436.6,1015.52 L1439.0,1016.05 L1441.4,1016.58 L1443.8,1017.12 L1446.2,1017.65 L1448.7,1018.17 L1451.1,1018.70 L1453.5,1019.22 L1455.9,1019.74 L1458.4,1020.26 L1460.8,1020.78 L1463.2,1021.30 L1465.7,1021.81 L1468.1,1022.33 L1470.5,1022.84 L1473.0,1023.34 L1475.4,1023.85 L1477.9,1024.36 L1480.3,1024.86 L1482.8,1025.36 L1485.2,1025.86 L1487.7,1026.36 L1490.1,1026.85 L1492.6,1027.34 L1495.0,1027.84 L1497.5,1028.33 L1500.0,1028.81 L1502.4,1029.30 L1504.9,1029.78 L1507.4,1030.26 L1509.8,1030.74 L1512.3,1031.22 L1514.8,1031.70 L1517.3,1032.17 L1519.7,1032.65 L1522.2,1033.12 L1524.7,1033.58 L1527.2,1034.05 L1529.7,1034.52 L1532.2,1034.98 L1534.7,1035.44 L1537.2,1035.90 L1539.7,1036.36 L1542.2,1036.81 L1544.7,1037.27 L1547.2,1037.72 L1549.7,1038.17 L1552.2,1038.62 L1554.7,1039.06 L1557.2,1039.51 L1559.7,1039.95 L1562.2,1040.39 L1564.7,1040.83 L1567.3,1041.26 L1569.8,1041.70 L1572.3,1042.13 L1574.8,1042.56 L1577.4,1042.99 L1579.9,1043.41 L1582.4,1043.84 L1585.0,1044.26 L1587.5,1044.68 L1590.0,1045.10 L1592.6,1045.51 L1595.1,1045.92 L1597.7,1046.33 L1600.2,1046.74 L1602.8,1047.14 L1605.4,1047.54 L1607.9,1047.94 L1610.5,1048.33 L1613.1,1048.72 L1615.6,1049.11 L1618.2,1049.50 L1620.8,1049.88 L1623.4,1050.26 L1626.0,1050.63 L1628.5,1051.01 L1631.1,1051.38 L1633.7,1051.74 L1636.3,1052.10 L1638.9,1052.46 L1641.6,1052.82 L1644.2,1053.17 L1646.8,1053.52 L1649.4,1053.86 L1652.0,1054.20 L1654.7,1054.54 L1657.3,1054.87 L1659.9,1055.20 L1662.6,1055.52 L1665.2,1055.84 L1667.9,1056.15 L1670.5,1056.47 L1673.2,1056.77 L1675.9,1057.07 L1678.5,1057.37 L1681.2,1057.67 L1683.9,1057.96 L1686.6,1058.24 L1689.3,1058.52 L1692.0,1058.80 L1694.7,1059.07 L1697.4,1059.33 L1700.1,1059.59 L1702.8,1059.85 L1705.5,1060.10 L1708.3,1060.34 L1711.0,1060.58 L1713.8,1060.82 L1716.5,1061.05 L1719.3,1061.27 L1722.0,1061.49 L1724.8,1061.71 L1727.5,1061.92 L1730.3,1062.12 L1733.1,1062.32 L1735.9,1062.51 L1738.7,1062.70 L1741.5,1062.88 L1744.3,1063.06 L1747.1,1063.23 L1749.9,1063.40 L1752.7,1063.57 L1755.6,1063.73 L1758.4,1063.88 L1761.2,1064.03 L1764.1,1064.18 L1766.9,1064.32 L1769.7,1064.46 L1772.6,1064.60 L1775.5,1064.73 L1778.3,1064.85 L1781.2,1064.98 L1784.0,1065.10 L1786.9,1065.21 L1789.8,1065.32 L1792.7,1065.43 L1795.6,1065.54 L1798.4,1065.64 L1801.3,1065.74 L1804.2,1065.84 L1807.1,1065.93 L1810.0,1066.02 L1812.9,1066.11 L1815.8,1066.19 L1818.8,1066.27 L1821.7,1066.35 L1824.6,1066.43 L1827.5,1066.50 L1830.4,1066.57 L1833.4,1066.64 L1836.3,1066.71 L1839.2,1066.77 L1842.1,1066.83 L1845.1,1066.89 L1848.0,1066.95 L1850.9,1067.01 L1853.9,1067.06 L1856.8,1067.12 L1859.8,1067.17 L1862.7,1067.22 L1865.7,1067.27 L1868.6,1067.32 L1871.6,1067.36 L1874.5,1067.41 L1877.5,1067.45 L1880.4,1067.49 L1883.4,1067.54 L1886.3,1067.58 L1889.3,1067.62 L1892.2,1067.66 L1895.2,1067.70 L1898.1,1067.73 L1901.1,1067.77 L1904.1,1067.81 L1907.0,1067.85 L1910.0,1067.88 L1912.9,1067.92 L1915.9,1067.96 L1918.9,1067.99 L1921.8,1068.03 L1924.8,1068.07 L1927.7,1068.11 L1930.7,1068.14 L1933.7,1068.18 L1936.6,1068.22 L1939.6,1068.26 L1942.5,1068.30 L1945.5,1068.34 L1948.4,1068.38 L1951.4,1068.43 L1954.3,1068.47 L1957.3,1068.51 L1960.2,1068.56 L1963.2,1068.61 L1966.1,1068.66 L1969.1,1068.71 L1972.0,1068.76 L1975.0,1068.81 L1977.9,1068.86 L1980.8,1068.92 L1983.8,1068.98 L1986.7,1069.04 L1989.6,1069.10 L1992.6,1069.16 L1995.5,1069.23 L1998.4,1069.29 L2001.4,1069.36 L2004.3,1069.43 L2007.2,1069.50 L2010.1,1069.57 L2013.0,1069.65 L2016.0,1069.72 L2018.9,1069.80 L2021.8,1069.88 L2024.7,1069.96 L2027.6,1070.04 L2030.5,1070.12 L2033.4,1070.20 L2036.3,1070.29 L2039.2,1070.37 L2042.2,1070.46 L2045.1,1070.54 L2048.0,1070.63 L2050.9,1070.72 L2053.8,1070.81 L2056.7,1070.90 L2059.6,1071.00 L2062.5,1071.09 L2065.4,1071.18 L2068.3,1071.28 L2071.1,1071.37 L2074.0,1071.47 L2076.9,1071.56 L2079.8,1071.66 L2082.7,1071.76 L2085.6,1071.85 L2088.5,1071.95 L2091.4,1072.05 L2094.3,1072.15 L2097.2,1072.25 L2100.1,1072.35 L2103.0,1072.45 L2105.8,1072.55 L2108.7,1072.65 L2111.6,1072.75 L2114.5,1072.85 L2117.4,1072.96 L2120.3,1073.06 L2123.2,1073.16 L2126.1,1073.26 L2129.0,1073.36 L2131.8,1073.46 L2134.7,1073.56 L2137.6,1073.67 L2140.5,1073.77 L2143.4,1073.87 L2146.3,1073.97 L2149.2,1074.07 L2152.1,1074.17 L2155.0,1074.27 L2157.9,1074.37 L2160.7,1074.47 L2163.6,1074.56 L2166.5,1074.66 L2169.4,1074.76 L2172.3,1074.86 L2175.2,1074.95 L2178.1,1075.05 L2181.0,1075.14 L2183.9,1075.24 L2186.8,1075.33 L2189.7,1075.42 L2192.6,1075.52 L2195.5,1075.61 L2198.4,1075.70 L2201.3,1075.79 L2204.2,1075.87 L2207.1,1075.96 L2210.0,1076.05 L2212.9,1076.13 L2215.8,1076.22 L2218.7,1076.30 L2221.6,1076.38 L2224.5,1076.46 L2227.5,1076.54 L2230.4,1076.62 L2233.3,1076.70 L2236.2,1076.77 L2239.1,1076.85 L2242.0,1076.92 L2245.0,1076.99 L2247.9,1077.06 L2250.8,1077.13 L2253.7,1077.19 L2256.7,1077.26 L2259.6,1077.32 L2262.5,1077.38 L2265.5,1077.44 L2268.4,1077.50 L2271.3,1077.56 L2274.3,1077.61 L2277.2,1077.67 L2280.2,1077.72 L2283.1,1077.77 L2286.1,1077.81 L2289.0,1077.86 L2292.0,1077.90 L2294.9,1077.94 L2297.9,1077.98 L2300.8,1078.02 L2303.8,1078.05 L2306.8,1078.08 L2309.7,1078.11 L2312.7,1078.14 L2315.7,1078.16 L2318.6,1078.19 L2321.6,1078.21 L2324.6,1078.22 L2327.6,1078.24 L2329.5,1078.25" stroke="#ff0000"/>
<path d="M481.4,50.96 L481.5,53.55 L481.7,56.13 L481.9,58.71 L482.0,61.28 L482.2,63.85 L482.4,66.42 L482.6,68.98 L482.7,71.54 L482.9,74.10 L483.1,76.65 L483.3,79.19 L483.5,81.74 L483.7,84.28 L483.9,86.81 L484.2,89.34 L484.4,91.87 L484.6,94.39 L484.8,96.91 L485.1,99.42 L485.3,101.93 L485.6,104.44 L485.8,106.94 L486.1,109.44 L486.3,111.93 L486.6,114.42 L486.8,116.91 L487.1,119.39 L487.4,121.87 L487.7,124.34 L487.9,126.81 L488.2,129.28 L488.5,131.74 L488.8,134.20 L489.1,136.65 L489.4,139.10 L489.7,141.55 L490.1,143.99 L490.4,146.42 L490.7,148.86 L491.0,151.29 L491.4,153.71 L491.7,156.14 L492.0,158.55 L492.4,160.97 L492.7,163.38 L493.1,165.78 L493.4,168.18 L493.8,170.58 L494.2,172.98 L494.5,175.37 L494.9,177.75 L495.3,180.13 L495.7,182.51 L496.1,184.88 L496.5,187.25 L496.9,189.62 L497.3,191.98 L497.7,194.34 L498.1,196.69 L498.5,199.04 L498.9,201.39 L499.3,203.73 L499.8,206.07 L500.2,208.40 L500.6,210.73 L501.1,213.06 L501.5,215.38 L502.0,217.70 L502.4,220.01 L502.9,222.32 L503.3,224.63 L503.8,226.93 L504.3,229.23 L504.8,231.53 L505.2,233.82 L505.7,236.10 L506.2,238.39 L506.7,240.67 L507.2,242.94 L507.7,245.21 L508.2,247.48 L508.7,249.74 L509.2,252.00 L509.8,254.25 L510.3,256.51 L510.8,258.75 L511.3,261.00 L511.9,263.24 L512.4,265.47 L513.0,267.70 L513.5,269.93 L514.1,272.15 L514.6,274.37 L515.2,276.59 L515.8,278.80 L516.3,281.01 L516.9,283.21 L517.5,285.41 L518.1,287.61 L518.7,289.80 L519.2,291.99 L519.8,294.18 L520.4,296.36 L521.1,298.53 L521.7,300.71 L522.3,302.88 L522.9,305.04 L523.5,307.20 L524.1,309.36 L524.8,311.51 L525.4,313.66 L526.0,315.81 L526.7,317.95 L527.3,320.09 L528.0,322.22 L528.6,324.35 L529.3,326.48 L530.0,328.60 L530.6,330.72 L531.3,332.84 L532.0,334.95 L532.7,337.05 L533.4,339.16 L534.1,341.26 L534.8,343.35 L535.5,345.44 L536.2,347.53 L536.9,349.61 L537.6,351.69 L538.3,353.77 L539.0,355.84 L539.7,357.91 L540.5,359.98 L541.2,362.04 L541.9,364.09 L542.7,366.15 L543.4,368.20 L544.2,370.24 L544.9,372.28 L545.7,374.32 L546.4,376.35 L547.2,378.38 L548.0,380.41 L548.8,382.43 L549.5,384.45 L550.3,386.47 L551.1,388.48 L551.9,390.48 L552.7,392.49 L553.5,394.49 L554.3,396.48 L555.1,398.47 L555.9,400.46 L556.7,402.45 L557.6,404.43 L558.4,406.40 L559.2,408.38 L560.1,410.34 L560.9,412.31 L561.7,414.27 L562.6,416.23 L563.4,418.18 L564.3,420.13 L565.2,422.08 L566.0,424.02 L566.9,425.96 L567.8,427.89 L568.6,429.83 L569.5,431.75 L570.4,433.68 L571.3,435.60 L572.2,437.51 L573.1,439.42 L574.0,441.33 L574.9,443.24 L575.8,445.14 L576.7,447.03 L577.6,448.93 L578.5,450.82 L579.5,452.70 L580.4,454.58 L581.3,456.46 L582.3,458.34 L583.2,460.21 L584.2,462.07 L585.1,463.94 L586.1,465.80 L587.0,467.65 L588.0,469.50 L589.0,471.35 L589.9,473.20 L590.9,475.04 L591.9,476.87 L592.9,478.71 L593.8,480.54 L594.8,482.36 L595.8,484.18 L596.8,486.00 L597.8,487.82 L598.8,489.63 L599.9,491.43 L600.9,493.24 L601.9,495.04 L602.9,496.83 L604.0,498.62 L605.0,500.41 L606.0,502.20 L607.1,503.98 L608.1,505.76 L609.2,507.53 L610.2,509.30 L611.3,511.07 L612.3,512.83 L613.4,514.59 L614.5,516.34 L615.5,518.09 L616.6,519.84 L617.7,521.58 L618.8,523.32 L619.9,525.06 L621.0,526.79 L622.1,528.52 L623.2,530.25 L624.3,531.97 L625.4,533.69 L626.5,535.41 L627.6,537.12 L628.7,538.83 L629.8,540.54 L631.0,542.24 L632.1,543.94 L633.2,545.63 L634.4,547.33 L635.5,549.02 L636.7,550.70 L637.8,552.39 L639.0,554.07 L640.1,555.74 L641.3,557.42 L642.4,559.09 L643.6,560.76 L644.8,562.42 L645.9,564.08 L647.1,565.74 L648.3,567.40 L649.5,569.05 L650.7,570.70 L651.9,572.34 L653.1,573.99 L654.2,575.63 L655.4,577.27 L656.6,578.90 L657.8,580.54 L659.1,582.17 L660.3,583.79 L661.5,585.42 L662.7,587.04 L663.9,588.66 L665.1,590.28 L666.4,591.89 L667.6,593.50 L668.8,595.11 L670.0,596.72 L671.3,598.32 L672.5,599.92 L673.8,601.52 L675.0,603.12 L676.3,604.71 L677.5,606.30 L678.8,607.89 L680.0,609.48 L681.3,611.06 L682.5,612.65 L683.8,614.23 L685.1,615.80 L686.3,617.38 L687.6,618.95 L688.9,620.52 L690.1,622.09 L691.4,623.66 L692.7,625.22 L694.0,626.79 L695.3,628.35 L696.5,629.91 L697.8,631.46 L699.1,633.02 L700.4,634.57 L701.7,636.12 L703.0,637.67 L704.3,639.21 L705.6,640.76 L706.9,642.30 L708.2,643.84 L709.5,645.38 L710.8,646.92 L712.1,648.46 L713.4,649.99 L714.8,651.52 L716.1,653.06 L717.4,654.58 L718.7,656.11 L720.0,657.64 L721.4,659.16 L722.7,660.69 L724.0,662.21 L725.3,663.73 L726.7,665.24 L728.0,666.76 L729.3,668.28 L730.7,669.79 L732.0,671.30 L733.3,672.81 L734.7,674.32 L736.0,675.83 L737.4,677.34 L738.7,678.85 L740.1,680.35 L741.4,681.85 L742.7,683.36 L744.1,684.86 L745.4,686.36 L746.8,687.86 L748.1,689.36 L749.5,690.85 L750.9,692.35 L752.2,693.84 L753.6,695.33 L754.9,696.82 L756.3,698.31 L757.7,699.79 L759.0,701.28 L760.4,702.76 L761.8,704.24 L763.2,705.71 L764.5,707.18 L765.9,708.65 L767.3,710.12 L768.7,711.58 L770.1,713.04 L771.5,714.50 L772.9,715.95 L774.3,717.40 L775.7,718.84 L777.1,720.28 L778.6,721.72 L780.0,723.15 L781.4,724.57 L782.8,726.00 L784.3,727.41 L785.7,728.82 L787.2,730.23 L788.6,731.63 L790.1,733.03 L791.6,734.42 L793.1,735.80 L794.5,737.18 L796.0,738.56 L797.5,739.92 L799.0,741.28 L800.5,742.64 L802.1,743.98 L803.6,745.32 L805.1,746.66 L806.7,747.98 L808.2,749.30 L809.8,750.62 L811.3,751.92 L812.9,753.22 L814.5,754.51 L816.1,755.79 L817.7,757.07 L819.3,758.33 L820.9,759.59 L822.5,760.84 L824.1,762.09 L825.8,763.32 L827.4,764.55 L829.1,765.76 L830.8,766.97 L832.4,768.17 L834.1,769.36 L835.8,770.54 L837.6,771.71 L839.3,772.88 L841.0,774.03 L842.7,775.17 L844.5,776.31 L846.3,777.43 L848.0,778.55 L849.8,779.66 L851.6,780.76 L853.4,781.86 L855.2,782.95 L857.0,784.03 L858.8,785.11 L860.6,786.18 L862.5,787.25 L864.3,788.32 L866.1,789.38 L868.0,790.43 L869.8,791.49 L871.6,792.54 L873.5,793.60 L875.3,794.65 L877.2,795.70 L879.0,796.75 L880.9,797.80 L882.7,798.85 L884.5,799.91 L886.4,800.96 L888.2,802.02 L890.1,803.07 L891.9,804.13 L893.7,805.18 L895.6,806.23 L897.4,807.27 L899.3,808.31 L901.2,809.35 L903.0,810.38 L904.9,811.40 L906.8,812.42 L908.7,813.42 L910.6,814.42 L912.5,815.41 L914.4,816.38 L916.4,817.35 L918.3,818.30 L920.3,819.24 L922.3,820.16 L924.3,821.07 L926.3,821.97 L928.3,822.85 L930.4,823.71 L932.4,824.55 L934.5,825.38 L936.6,826.18 L938.8,826.96 L940.9,827.73 L943.1,828.47 L945.3,829.19 L947.6,829.88 L949.8,830.55 L952.1,831.19 L954.4,831.81 L956.8,832.41 L959.2,832.98 L961.6,833.53 L964.0,834.05 L966.4,834.54 L968.9,835.02 L971.4,835.46 L974.0,835.89 L976.5,836.29 L979.1,836.66 L981.7,837.02 L984.4,837.34 L987.0,837.65 L989.7,837.93 L992.4,838.19 L995.2,838.42 L997.9,838.63 L1000.7,838.82 L1003.6,838.98 L1006.4,839.12 L1009.3,839.24 L1012.2,839.34 L1015.1,839.41 L1018.0,839.46 L1021.0,839.49 L1024.0,839.49 L1027.0,839.48 L1030.1,839.44 L1033.1,839.37 L1036.2,839.29 L1039.3,839.19 L1042.5,839.06 L1045.6,838.91 L1048.8,838.74 L1052.0,838.56 L1055.2,838.36 L1058.5,838.15 L1061.7,837.93 L1065.0,837.70 L1068.2,837.47 L1071.5,837.24 L1074.7,837.00 L1078.0,836.77 L1081.2,836.55 L1084.5,836.33 L1087.7,836.12 L1090.9,835.92 L1094.1,835.73 L1097.3,835.56 L1100.5,835.40 L1103.6,835.26 L1106.8,835.15 L1109.9,835.05 L1113.0,834.98 L1116.0,834.94 L1119.0,834.92 L1122.0,834.92 L1125.0,834.95 L1127.9,835.01 L1130.8,835.09 L1133.7,835.20 L1136.6,835.34 L1139.4,835.51 L1142.2,835.69 L1144.9,835.91 L1147.7,836.14 L1150.4,836.40 L1153.1,836.68 L1155.8,836.98 L1158.4,837.31 L1161.0,837.65 L1163.6,838.01 L1166.2,838.39 L1168.8,838.78 L1171.3,839.19 L1173.9,839.62 L1176.4,840.06 L1178.9,840.52 L1181.4,840.99 L1183.8,841.47 L1186.3,841.96 L1188.7,842.47 L1191.2,842.98 L1193.6,843.50 L1196.0,844.04 L1198.4,844.58 L1200.8,845.12 L1203.2,845.68 L1205.6,846.24 L1208.0,846.80 L1210.3,847.38 L1212.7,847.96 L1215.0,848.54 L1217.4,849.13 L1219.7,849.73 L1222.1,850.34 L1224.4,850.95 L1226.7,851.56 L1229.0,852.19 L1231.3,852.82 L1233.6,853.45 L1235.9,854.09 L1238.2,854.74 L1240.5,855.39 L1242.8,856.05 L1245.1,856.71 L1247.3,857.38 L1249.6,858.06 L1251.8,858.74 L1254.1,859.43 L1256.3,860.12 L1258.5,860.82 L1260.8,861.52 L1263.0,862.23 L1265.2,862.94 L1267.4,863.66 L1269.6,864.39 L1271.8,865.12 L1274.0,865.85 L1276.2,866.60 L1278.4,867.34 L1280.5,868.09 L1282.7,868.85 L1284.9,869.61 L1287.0,870.38 L1289.2,871.15 L1291.3,871.92 L1293.5,872.70 L1295.6,873.49 L1297.7,874.28 L1299.9,875.07 L1302.0,875.87 L1304.1,876.68 L1306.2,877.49 L1308.3,878.30 L1310.4,879.12 L1312.5,879.94 L1314.6,880.77 L1316.7,881.60 L1318.8,882.43 L1320.8,883.27 L1322.9,884.12 L1325.0,884.96 L1327.0,885.82 L1329.1,886.67 L1331.2,887.53 L1333.2,888.40 L1335.2,889.27 L1337.3,890.14 L1339.3,891.02 L1341.4,891.90 L1343.4,892.78 L1345.4,893.67 L1347.4,894.56 L1349.4,895.45 L1351.4,896.35 L1353.5,897.26 L1355.5,898.16 L1357.5,899.07 L1359.5,899.98 L1361.4,900.90 L1363.4,901.82 L1365.4,902.74 L1367.4,903.65 L1369.4,904.57 L1371.4,905.49 L1373.4,906.41 L1375.4,907.32 L1377.4,908.24 L1379.4,909.15 L1381.4,910.05 L1383.4,910.95 L1385.4,911.85 L1387.4,912.74 L1389.5,913.62 L1391.5,914.50 L1393.5,915.37 L1395.6,916.23 L1397.7,917.08 L1399.7,917.92 L1401.8,918.75 L1403.9,919.57 L1406.0,920.38 L1408.1,921.18 L1410.3,921.97 L1412.4,922.75 L1414.6,923.52 L1416.7,924.28 L1418.9,925.04 L1421.1,925.80 L1423.2,926.55 L1425.4,927.29 L1427.6,928.03 L1429.8,928.77 L1432.0,929.51 L1434.2,930.25 L1436.4,930.98 L1438.5,931.72 L1440.7,932.46 L1442.9,933.21 L1445.1,933.95 L1447.3,934.70 L1449.4,935.46 L1451.6,936.22 L1453.8,936.99 L1455.9,937.76 L1458.0,938.53 L1460.2,939.32 L1462.3,940.10 L1464.5,940.89 L1466.6,941.68 L1468.7,942.48 L1470.8,943.28 L1473.0,944.08 L1475.1,944.88 L1477.2,945.69 L1479.3,946.49 L1481.4,947.30 L1483.5,948.11 L1485.6,948.92 L1487.7,949.73 L1489.8,950.55 L1491.9,951.36 L1494.1,952.17 L1496.2,952.98 L1498.3,953.79 L1500.4,954.60 L1502.5,955.40 L1504.6,956.21 L1506.7,957.01 L1508.8,957.81 L1511.0,958.60 L1513.1,959.40 L1515.2,960.19 L1517.4,960.97 L1519.5,961.76 L1521.7,962.53 L1523.8,963.31 L1526.0,964.08 L1528.1,964.84 L1530.3,965.61 L1532.4,966.36 L1534.6,967.12 L1536.8,967.87 L1539.0,968.62 L1541.1,969.36 L1543.3,970.10 L1545.5,970.83 L1547.7,971.57 L1549.9,972.29 L1552.1,973.02 L1554.3,973.74 L1556.5,974.46 L1558.7,975.17 L1561.0,975.88 L1563.2,976.59 L1565.4,977.30 L1567.6,978.00 L1569.9,978.70 L1572.1,979.39 L1574.3,980.08 L1576.6,980.77 L1578.8,981.46 L1581.1,982.14 L1583.3,982.82 L1585.6,983.50 L1587.8,984.17 L1590.1,984.84 L1592.4,985.51 L1594.6,986.18 L1596.9,986.84 L1599.2,987.50 L1601.5,988.16 L1603.7,988.81 L1606.0,989.47 L1608.3,990.12 L1610.6,990.77 L1612.9,991.41 L1615.2,992.05 L1617.5,992.69 L1619.8,993.33 L1622.1,993.97 L1624.4,994.60 L1626.7,995.23 L1629.0,995.86 L1631.3,996.49 L1633.6,997.12 L1635.9,997.74 L1638.2,998.36 L1640.6,998.98 L1642.9,999.60 L1645.2,1000.22 L1647.5,1000.83 L1649.8,1001.44 L1652.2,1002.06 L1654.5,1002.66 L1656.8,1003.27 L1659.2,1003.88 L1661.5,1004.48 L1663.8,1005.09 L1666.2,1005.69 L1668.5,1006.29 L1670.9,1006.89 L1673.2,1007.48 L1675.5,1008.08 L1677.9,1008.68 L1680.2,1009.27 L1682.6,1009.86 L1684.9,1010.45 L1687.3,1011.04 L1689.6,1011.63 L1692.0,1012.21 L1694.4,1012.79 L1696.7,1013.37 L1699.1,1013.94 L1701.5,1014.51 L1703.9,1015.07 L1706.2,1015.64 L1708.6,1016.19 L1711.0,1016.75 L1713.4,1017.29 L1715.8,1017.83 L1718.2,1018.37 L1720.6,1018.90 L1723.1,1019.42 L1725.5,1019.94 L1727.9,1020.45 L1730.4,1020.96 L1732.8,1021.45 L1735.3,1021.94 L1737.8,1022.43 L1740.2,1022.90 L1742.7,1023.37 L1745.2,1023.82 L1747.7,1024.27 L1750.3,1024.71 L1752.8,1025.14 L1755.3,1025.56 L1757.9,1025.97 L1760.4,1026.37 L1763.0,1026.76 L1765.6,1027.14 L1768.2,1027.51 L1770.8,1027.87 L1773.4,1028.22 L1776.0,1028.55 L1778.7,1028.88 L1781.3,1029.20 L1784.0,1029.51 L1786.6,1029.81 L1789.3,1030.10 L1792.0,1030.39 L1794.7,1030.67 L1797.4,1030.94 L1800.1,1031.21 L1802.8,1031.47 L1805.5,1031.73 L1808.3,1031.99 L1811.0,1032.24 L1813.7,1032.48 L1816.4,1032.73 L1819.2,1032.97 L1821.9,1033.21 L1824.6,1033.45 L1827.4,1033.69 L1830.1,1033.92 L1832.9,1034.16 L1835.6,1034.40 L1838.3,1034.64 L1841.1,1034.88 L1843.8,1035.12 L1846.5,1035.36 L1849.3,1035.60 L1852.0,1035.84 L1854.8,1036.08 L1857.5,1036.32 L1860.2,1036.55 L1863.0,1036.79 L1865.7,1037.03 L1868.4,1037.26 L1871.2,1037.50 L1873.9,1037.73 L1876.7,1037.96 L1879.4,1038.19 L1882.2,1038.41 L1884.9,1038.64 L1887.7,1038.86 L1890.5,1039.08 L1893.2,1039.29 L1896.0,1039.50 L1898.8,1039.71 L1901.5,1039.92 L1904.3,1040.12 L1907.1,1040.32 L1909.9,1040.51 L1912.7,1040.70 L1915.5,1040.89 L1918.3,1041.07 L1921.1,1041.24 L1923.9,1041.41 L1926.7,1041.58 L1929.5,1041.74 L1932.4,1041.89 L1935.2,1042.04 L1938.0,1042.19 L1940.9,1042.32 L1943.7,1042.45 L1946.6,1042.58 L1949.5,1042.70 L1952.3,1042.81 L1955.2,1042.92 L1958.1,1043.02 L1961.0,1043.12 L1963.9,1043.22 L1966.8,1043.30 L1969.7,1043.39 L1972.6,1043.47 L1975.5,1043.54 L1978.5,1043.62 L1981.4,1043.69 L1984.3,1043.75 L1987.2,1043.81 L1990.2,1043.87 L1993.1,1043.93 L1996.1,1043.98 L1999.0,1044.03 L2001.9,1044.08 L2004.9,1044.13 L2007.8,1044.17 L2010.8,1044.21 L2013.8,1044.26 L2016.7,1044.30 L2019.7,1044.34 L2022.6,1044.37 L2025.6,1044.41 L2028.5,1044.45 L2031.5,1044.49 L2034.5,1044.52 L2037.4,1044.56 L2040.4,1044.60 L2043.3,1044.63 L2046.3,1044.67 L2049.3,1044.71 L2052.2,1044.75 L2055.2,1044.79 L2058.1,1044.83 L2061.1,1044.88 L2064.0,1044.92 L2067.0,1044.97 L2069.9,1045.02 L2072.9,1045.07 L2075.8,1045.13 L2078.7,1045.18 L2081.7,1045.24 L2084.6,1045.30 L2087.5,1045.36 L2090.5,1045.43 L2093.4,1045.49 L2096.3,1045.56 L2099.2,1045.63 L2102.2,1045.71 L2105.1,1045.78 L2108.0,1045.86 L2110.9,1045.94 L2113.8,1046.03 L2116.7,1046.11 L2119.6,1046.20 L2122.5,1046.29 L2125.4,1046.39 L2128.3,1046.49 L2131.2,1046.59 L2134.1,1046.69 L2137.0,1046.80 L2139.8,1046.90 L2142.7,1047.02 L2145.6,1047.13 L2148.5,1047.25 L2151.3,1047.36 L2154.2,1047.48 L2157.1,1047.60 L2160.0,1047.72 L2162.8,1047.83 L2165.7,1047.95 L2168.6,1048.06 L2171.5,1048.16 L2174.3,1048.27 L2177.2,1048.37 L2180.1,1048.47 L2183.0,1048.56 L2185.9,1048.64 L2188.8,1048.72 L2191.8,1048.79 L2194.7,1048.85 L2197.6,1048.91 L2200.6,1048.96 L2203.5,1048.99 L2206.5,1049.02 L2209.5,1049.04 L2212.5,1049.04 L2215.5,1049.04 L2218.5,1049.02 L2221.5,1048.99 L2224.6,1048.95 L2227.7,1048.89 L2230.7,1048.83 L2233.8,1048.75 L2236.9,1048.66 L2240.0,1048.57 L2243.1,1048.47 L2246.2,1048.36 L2249.4,1048.24 L2252.5,1048.12 L2255.6,1048.00 L2258.8,1047.87 L2261.9,1047.74 L2265.1,1047.60 L2268.2,1047.47 L2271.4,1047.33 L2274.5,1047.19 L2277.7,1047.06 L2280.8,1046.92 L2284.0,1046.79 L2287.1,1046.66 L2290.2,1046.54 L2293.4,1046.42 L2296.5,1046.30 L2299.6,1046.20 L2302.7,1046.10 L2305.8,1046.00 L2308.9,1045.92 L2312.0,1045.84 L2315.1,1045.78 L2318.1,1045.73 L2321.2,1045.69 L2324.2,1045.66 L2327.2,1045.64 L2330.2,1045.64 L2330.3,1045.64" stroke="#0000ff"/>
<path d="M494.4,52.37 L494.6,54.95 L494.8,57.52 L494.9,60.09 L495.1,62.65 L495.3,65.21 L495.5,67.76 L495.7,70.30 L495.9,72.84 L496.1,75.38 L496.4,77.90 L496.6,80.43 L496.8,82.94 L497.0,85.46 L497.3,87.96 L497.5,90.47 L497.8,92.96 L498.0,95.45 L498.3,97.94 L498.6,100.42 L498.9,102.89 L499.1,105.36 L499.4,107.83 L499.7,110.29 L500.0,112.74 L500.3,115.19 L500.7,117.63 L501.0,120.07 L501.3,122.50 L501.6,124.93 L502.0,127.35 L502.3,129.77 L502.6,132.18 L503.0,134.59 L503.4,136.99 L503.7,139.39 L504.1,141.78 L504.5,144.17 L504.8,146.55 L505.2,148.93 L505.6,151.30 L506.0,153.66 L506.4,156.03 L506.8,158.38 L507.2,160.74 L507.7,163.08 L508.1,165.42 L508.5,167.76 L508.9,170.09 L509.4,172.42 L509.8,174.75 L510.3,177.06 L510.7,179.38 L511.2,181.68 L511.7,183.99 L512.1,186.29 L512.6,188.58 L513.1,190.87 L513.6,193.16 L514.1,195.44 L514.6,197.71 L515.1,199.98 L515.6,202.25 L516.1,204.51 L516.6,206.77 L517.1,209.02 L517.7,211.27 L518.2,213.51 L518.7,215.75 L519.3,217.98 L519.8,220.21 L520.4,222.44 L520.9,224.66 L521.5,226.87 L522.1,229.08 L522.6,231.29 L523.2,233.49 L523.8,235.69 L524.4,237.89 L525.0,240.08 L525.6,242.26 L526.2,244.44 L526.8,246.62 L527.4,248.79 L528.0,250.96 L528.6,253.12 L529.2,255.28 L529.9,257.44 L530.5,259.59 L531.1,261.73 L531.8,263.88 L532.4,266.01 L533.1,268.15 L533.7,270.28 L534.4,272.40 L535.1,274.53 L535.7,276.64 L536.4,278.76 L537.1,280.87 L537.8,282.97 L538.5,285.07 L539.2,287.17 L539.9,289.27 L540.6,291.35 L541.3,293.44 L542.0,295.52 L542.7,297.60 L543.4,299.67 L544.1,301.74 L544.9,303.81 L545.6,305.87 L546.3,307.93 L547.1,309.98 L547.8,312.03 L548.6,314.08 L549.3,316.12 L550.1,318.16 L550.8,320.20 L551.6,322.23 L552.4,324.26 L553.1,326.28 L553.9,328.30 L554.7,330.32 L555.5,332.33 L556.3,334.34 L557.1,336.35 L557.9,338.35 L558.7,340.35 L559.5,342.34 L560.3,344.33 L561.1,346.32 L561.9,348.30 L562.7,350.28 L563.6,352.26 L564.4,354.24 L565.2,356.21 L566.1,358.17 L566.9,360.14 L567.7,362.10 L568.6,364.05 L569.4,366.01 L570.3,367.96 L571.2,369.90 L572.0,371.84 L572.9,373.78 L573.8,375.72 L574.6,377.65 L575.5,379.58 L576.4,381.51 L577.3,383.43 L578.2,385.35 L579.0,387.27 L579.9,389.18 L580.8,391.09 L581.7,393.00 L582.7,394.90 L583.6,396.81 L584.5,398.70 L585.4,400.60 L586.3,402.49 L587.2,404.38 L588.2,406.26 L589.1,408.15 L590.0,410.03 L591.0,411.90 L591.9,413.77 L592.8,415.65 L593.8,417.51 L594.7,419.38 L595.7,421.24 L596.6,423.10 L597.6,424.95 L598.6,426.81 L599.5,428.66 L600.5,430.50 L601.5,432.35 L602.4,434.19 L603.4,436.03 L604.4,437.86 L605.4,439.70 L606.4,441.53 L607.4,443.35 L608.3,445.18 L609.3,447.00 L610.3,448.82 L611.3,450.64 L612.4,452.45 L613.4,454.26 L614.4,456.07 L615.4,457.88 L616.4,459.68 L617.4,461.48 L618.4,463.28 L619.5,465.08 L620.5,466.87 L621.5,468.66 L622.6,470.45 L623.6,472.23 L624.6,474.02 L625.7,475.80 L626.7,477.58 L627.8,479.35 L628.8,481.13 L629.9,482.90 L630.9,484.67 L632.0,486.43 L633.0,488.20 L634.1,489.96 L635.2,491.72 L636.2,493.48 L637.3,495.23 L638.4,496.98 L639.4,498.73 L640.5,500.48 L641.6,502.23 L642.7,503.97 L643.8,505.71 L644.8,507.45 L645.9,509.19 L647.0,510.92 L648.1,512.66 L649.2,514.39 L650.3,516.12 L651.4,517.84 L652.5,519.57 L653.6,521.29 L654.7,523.01 L655.8,524.73 L657.0,526.44 L658.1,528.16 L659.2,529.87 L660.3,531.58 L661.4,533.28 L662.6,534.99 L663.7,536.69 L664.8,538.39 L666.0,540.09 L667.1,541.78 L668.2,543.48 L669.4,545.17 L670.5,546.85 L671.7,548.54 L672.8,550.22 L673.9,551.91 L675.1,553.59 L676.3,555.26 L677.4,556.94 L678.6,558.61 L679.7,560.28 L680.9,561.95 L682.1,563.61 L683.2,565.27 L684.4,566.93 L685.6,568.59 L686.8,570.25 L688.0,571.90 L689.1,573.55 L690.3,575.20 L691.5,576.85 L692.7,578.49 L693.9,580.13 L695.1,581.77 L696.3,583.41 L697.5,585.04 L698.7,586.67 L699.9,588.30 L701.1,589.93 L702.3,591.55 L703.6,593.17 L704.8,594.79 L706.0,596.41 L707.2,598.02 L708.5,599.63 L709.7,601.24 L710.9,602.85 L712.2,604.45 L713.4,606.05 L714.6,607.65 L715.9,609.24 L717.1,610.84 L718.4,612.43 L719.6,614.02 L720.9,615.60 L722.1,617.18 L723.4,618.77 L724.7,620.34 L725.9,621.92 L727.2,623.49 L728.5,625.06 L729.8,626.63 L731.0,628.19 L732.3,629.75 L733.6,631.31 L734.9,632.87 L736.2,634.42 L737.5,635.97 L738.8,637.52 L740.1,639.07 L741.4,640.61 L742.7,642.15 L744.0,643.69 L745.3,645.22 L746.6,646.75 L747.9,648.28 L749.3,649.81 L750.6,651.33 L751.9,652.86 L753.2,654.37 L754.6,655.89 L755.9,657.40 L757.2,658.91 L758.6,660.42 L759.9,661.92 L761.3,663.42 L762.6,664.92 L764.0,666.42 L765.3,667.91 L766.7,669.40 L768.1,670.89 L769.4,672.37 L770.8,673.85 L772.2,675.33 L773.6,676.81 L774.9,678.28 L776.3,679.75 L777.7,681.22 L779.1,682.68 L780.5,684.14 L781.9,685.60 L783.3,687.05 L784.7,688.51 L786.1,689.95 L787.5,691.40 L788.9,692.84 L790.3,694.28 L791.8,695.71 L793.2,697.14 L794.6,698.57 L796.1,699.99 L797.5,701.41 L798.9,702.82 L800.4,704.22 L801.9,705.62 L803.3,707.01 L804.8,708.40 L806.3,709.78 L807.8,711.16 L809.3,712.52 L810.8,713.88 L812.3,715.24 L813.8,716.58 L815.3,717.92 L816.9,719.25 L818.4,720.57 L820.0,721.88 L821.5,723.19 L823.1,724.48 L824.7,725.77 L826.3,727.04 L827.9,728.31 L829.5,729.56 L831.2,730.81 L832.8,732.05 L834.4,733.27 L836.1,734.48 L837.8,735.69 L839.5,736.88 L841.2,738.06 L842.9,739.23 L844.6,740.38 L846.4,741.53 L848.1,742.67 L849.9,743.79 L851.6,744.91 L853.4,746.02 L855.2,747.12 L857.0,748.21 L858.8,749.29 L860.6,750.37 L862.5,751.44 L864.3,752.51 L866.1,753.56 L868.0,754.62 L869.8,755.67 L871.7,756.71 L873.5,757.75 L875.4,758.79 L877.2,759.82 L879.1,760.85 L881.0,761.88 L882.9,762.90 L884.7,763.93 L886.6,764.95 L888.5,765.97 L890.4,766.99 L892.2,768.00 L894.1,769.01 L896.0,770.02 L897.9,771.02 L899.8,772.03 L901.7,773.02 L903.6,774.02 L905.5,775.01 L907.5,775.99 L909.4,776.97 L911.3,777.94 L913.3,778.90 L915.2,779.86 L917.2,780.81 L919.1,781.74 L921.1,782.67 L923.1,783.58 L925.1,784.48 L927.1,785.37 L929.2,786.24 L931.2,787.10 L933.3,787.94 L935.4,788.76 L937.5,789.57 L939.6,790.36 L941.8,791.13 L944.0,791.88 L946.2,792.61 L948.4,793.32 L950.6,794.00 L952.9,794.66 L955.2,795.30 L957.5,795.91 L959.9,796.50 L962.3,797.06 L964.7,797.59 L967.1,798.09 L969.6,798.57 L972.1,799.01 L974.7,799.42 L977.3,799.81 L979.9,800.16 L982.5,800.47 L985.2,800.75 L987.9,801.00 L990.7,801.21 L993.5,801.39 L996.4,801.52 L999.3,801.61 L1002.2,801.65 L1005.2,801.65 L1008.3,801.59 L1011.4,801.48 L1014.6,801.30 L1017.9,801.07 L1021.2,800.78 L1024.6,800.41 L1028.1,799.98 L1031.6,799.48 L1035.2,798.92 L1038.9,798.31 L1042.6,797.66 L1046.4,796.96 L1050.2,796.24 L1054.0,795.49 L1057.8,794.73 L1061.7,793.95 L1065.6,793.18 L1069.4,792.41 L1073.2,791.65 L1077.0,790.92 L1080.8,790.22 L1084.5,789.55 L1088.2,788.92 L1091.9,788.33 L1095.5,787.79 L1099.0,787.30 L1102.5,786.87 L1105.9,786.49 L1109.3,786.16 L1112.6,785.87 L1115.8,785.64 L1119.1,785.44 L1122.2,785.29 L1125.3,785.18 L1128.4,785.10 L1131.5,785.06 L1134.5,785.05 L1137.5,785.07 L1140.4,785.13 L1143.3,785.21 L1146.2,785.32 L1149.0,785.46 L1151.8,785.63 L1154.6,785.83 L1157.4,786.05 L1160.1,786.30 L1162.8,786.57 L1165.5,786.87 L1168.1,787.19 L1170.8,787.53 L1173.4,787.90 L1175.9,788.28 L1178.5,788.69 L1181.0,789.12 L1183.5,789.56 L1186.0,790.03 L1188.5,790.51 L1190.9,791.00 L1193.4,791.52 L1195.8,792.04 L1198.2,792.59 L1200.6,793.14 L1203.0,793.71 L1205.3,794.29 L1207.7,794.89 L1210.0,795.50 L1212.3,796.12 L1214.6,796.75 L1216.9,797.40 L1219.2,798.06 L1221.4,798.73 L1223.7,799.41 L1225.9,800.10 L1228.2,800.80 L1230.4,801.52 L1232.6,802.25 L1234.8,802.98 L1236.9,803.73 L1239.1,804.49 L1241.3,805.25 L1243.4,806.03 L1245.5,806.82 L1247.7,807.62 L1249.8,808.42 L1251.9,809.24 L1254.0,810.07 L1256.1,810.90 L1258.1,811.74 L1260.2,812.59 L1262.2,813.45 L1264.3,814.32 L1266.3,815.20 L1268.4,816.08 L1270.4,816.97 L1272.4,817.87 L1274.4,818.77 L1276.4,819.68 L1278.4,820.60 L1280.4,821.53 L1282.3,822.46 L1284.3,823.40 L1286.3,824.34 L1288.2,825.29 L1290.2,826.25 L1292.1,827.21 L1294.0,828.18 L1296.0,829.15 L1297.9,830.13 L1299.8,831.11 L1301.7,832.09 L1303.7,833.09 L1305.6,834.08 L1307.5,835.08 L1309.4,836.08 L1311.3,837.09 L1313.1,838.10 L1315.0,839.11 L1316.9,840.12 L1318.8,841.14 L1320.7,842.16 L1322.5,843.19 L1324.4,844.21 L1326.3,845.24 L1328.1,846.27 L1330.0,847.30 L1331.9,848.34 L1333.7,849.37 L1335.6,850.41 L1337.5,851.45 L1339.3,852.48 L1341.2,853.52 L1343.0,854.56 L1344.9,855.60 L1346.7,856.64 L1348.6,857.68 L1350.5,858.72 L1352.3,859.75 L1354.2,860.79 L1356.0,861.83 L1357.9,862.86 L1359.8,863.90 L1361.6,864.93 L1363.5,865.96 L1365.4,866.99 L1367.2,868.02 L1369.1,869.05 L1371.0,870.08 L1372.8,871.10 L1374.7,872.13 L1376.6,873.15 L1378.5,874.17 L1380.3,875.20 L1382.2,876.21 L1384.1,877.23 L1386.0,878.25 L1387.9,879.26 L1389.7,880.27 L1391.6,881.29 L1393.5,882.30 L1395.4,883.30 L1397.3,884.31 L1399.2,885.31 L1401.1,886.32 L1403.0,887.32 L1404.9,888.32 L1406.8,889.31 L1408.7,890.31 L1410.6,891.30 L1412.5,892.29 L1414.4,893.28 L1416.4,894.27 L1418.3,895.25 L1420.2,896.23 L1422.1,897.22 L1424.0,898.19 L1426.0,899.17 L1427.9,900.14 L1429.8,901.12 L1431.8,902.08 L1433.7,903.05 L1435.6,904.02 L1437.6,904.98 L1439.5,905.94 L1441.5,906.90 L1443.4,907.85 L1445.4,908.80 L1447.3,909.75 L1449.3,910.70 L1451.2,911.64 L1453.2,912.58 L1455.2,913.52 L1457.1,914.46 L1459.1,915.40 L1461.1,916.33 L1463.1,917.26 L1465.0,918.19 L1467.0,919.12 L1469.0,920.05 L1471.0,920.98 L1472.9,921.91 L1474.9,922.83 L1476.9,923.76 L1478.9,924.69 L1480.9,925.62 L1482.8,926.54 L1484.8,927.47 L1486.8,928.40 L1488.8,929.33 L1490.8,930.27 L1492.7,931.20 L1494.7,932.13 L1496.7,933.07 L1498.6,934.01 L1500.6,934.95 L1502.6,935.90 L1504.5,936.84 L1506.5,937.79 L1508.4,938.75 L1510.4,939.70 L1512.3,940.66 L1514.3,941.63 L1516.2,942.59 L1518.1,943.57 L1520.0,944.54 L1522.0,945.52 L1523.9,946.50 L1525.8,947.49 L1527.7,948.47 L1529.7,949.45 L1531.6,950.42 L1533.5,951.40 L1535.4,952.36 L1537.4,953.33 L1539.3,954.28 L1541.3,955.22 L1543.3,956.16 L1545.3,957.08 L1547.3,957.99 L1549.3,958.89 L1551.3,959.77 L1553.3,960.64 L1555.4,961.48 L1557.5,962.31 L1559.6,963.12 L1561.7,963.91 L1563.9,964.68 L1566.1,965.42 L1568.3,966.15 L1570.5,966.85 L1572.7,967.55 L1575.0,968.23 L1577.3,968.90 L1579.5,969.56 L1581.8,970.21 L1584.1,970.86 L1586.4,971.51 L1588.7,972.16 L1590.9,972.82 L1593.2,973.47 L1595.5,974.14 L1597.8,974.81 L1600.0,975.50 L1602.2,976.20 L1604.4,976.91 L1606.6,977.64 L1608.8,978.40 L1611.0,979.17 L1613.1,979.97 L1615.2,980.78 L1617.3,981.61 L1619.4,982.45 L1621.4,983.30 L1623.5,984.16 L1625.5,985.03 L1627.6,985.90 L1629.6,986.78 L1631.6,987.66 L1633.7,988.54 L1635.7,989.41 L1637.7,990.28 L1639.8,991.15 L1641.8,992.00 L1643.9,992.84 L1646.0,993.67 L1648.1,994.49 L1650.2,995.28 L1652.4,996.06 L1654.5,996.82 L1656.7,997.55 L1659.0,998.27 L1661.2,998.96 L1663.4,999.64 L1665.7,1000.29 L1668.0,1000.93 L1670.3,1001.55 L1672.7,1002.16 L1675.0,1002.76 L1677.4,1003.34 L1679.7,1003.91 L1682.1,1004.47 L1684.5,1005.02 L1686.9,1005.56 L1689.3,1006.10 L1691.8,1006.62 L1694.2,1007.15 L1696.6,1007.66 L1699.0,1008.18 L1701.5,1008.69 L1703.9,1009.20 L1706.4,1009.72 L1708.8,1010.23 L1711.2,1010.74 L1713.7,1011.26 L1716.1,1011.78 L1718.5,1012.31 L1720.9,1012.85 L1723.3,1013.39 L1725.7,1013.94 L1728.1,1014.49 L1730.5,1015.06 L1732.8,1015.64 L1735.2,1016.24 L1737.5,1016.84 L1739.8,1017.46 L1742.1,1018.10 L1744.4,1018.75 L1746.7,1019.42 L1748.9,1020.11 L1751.2,1020.81 L1753.4,1021.52 L1755.6,1022.23 L1757.8,1022.95 L1760.0,1023.67 L1762.2,1024.39 L1764.4,1025.11 L1766.6,1025.82 L1768.9,1026.52 L1771.1,1027.20 L1773.4,1027.87 L1775.7,1028.53 L1778.0,1029.16 L1780.3,1029.77 L1782.7,1030.35 L1785.1,1030.90 L1787.5,1031.42 L1789.9,1031.91 L1792.4,1032.36 L1795.0,1032.78 L1797.6,1033.16 L1800.2,1033.52 L1802.8,1033.85 L1805.5,1034.16 L1808.2,1034.44 L1810.9,1034.71 L1813.6,1034.96 L1816.3,1035.19 L1819.1,1035.41 L1821.9,1035.63 L1824.6,1035.83 L1827.4,1036.03 L1830.2,1036.23 L1833.0,1036.43 L1835.7,1036.63 L1838.5,1036.84 L1841.3,1037.06 L1844.0,1037.28 L1846.8,1037.53 L1849.5,1037.79 L1852.2,1038.07 L1854.8,1038.37 L1857.5,1038.70 L1860.1,1039.06 L1862.7,1039.44 L1865.2,1039.85 L1867.7,1040.27 L1870.3,1040.71 L1872.8,1041.16 L1875.3,1041.62 L1877.8,1042.08 L1880.2,1042.55 L1882.7,1043.02 L1885.2,1043.48 L1887.7,1043.93 L1890.2,1044.38 L1892.8,1044.81 L1895.3,1045.23 L1897.9,1045.63 L1900.4,1046.00 L1903.1,1046.35 L1905.7,1046.67 L1908.4,1046.96 L1911.1,1047.23 L1913.8,1047.47 L1916.6,1047.69 L1919.4,1047.89 L1922.2,1048.07 L1925.0,1048.24 L1927.8,1048.38 L1930.7,1048.52 L1933.5,1048.64 L1936.4,1048.75 L1939.3,1048.85 L1942.2,1048.94 L1945.1,1049.02 L1948.0,1049.11 L1950.9,1049.19 L1953.9,1049.26 L1956.8,1049.34 L1959.7,1049.41 L1962.6,1049.48 L1965.5,1049.55 L1968.5,1049.62 L1971.4,1049.69 L1974.3,1049.75 L1977.2,1049.82 L1980.2,1049.88 L1983.1,1049.94 L1986.0,1050.00 L1989.0,1050.07 L1991.9,1050.13 L1994.8,1050.19 L1997.8,1050.25 L2000.7,1050.31 L2003.6,1050.37 L2006.6,1050.44 L2009.5,1050.50 L2012.4,1050.56 L2015.4,1050.63 L2018.3,1050.69 L2021.2,1050.76 L2024.1,1050.83 L2027.1,1050.90 L2030.0,1050.97 L2032.9,1051.05 L2035.8,1051.12 L2038.7,1051.20 L2041.6,1051.28 L2044.5,1051.36 L2047.5,1051.45 L2050.4,1051.54 L2053.3,1051.63 L2056.2,1051.72 L2059.0,1051.82 L2061.9,1051.92 L2064.8,1052.02 L2067.7,1052.13 L2070.6,1052.24 L2073.5,1052.36 L2076.3,1052.47 L2079.2,1052.59 L2082.1,1052.71 L2084.9,1052.84 L2087.8,1052.96 L2090.6,1053.09 L2093.5,1053.23 L2096.4,1053.36 L2099.2,1053.49 L2102.1,1053.63 L2104.9,1053.77 L2107.7,1053.91 L2110.6,1054.05 L2113.4,1054.20 L2116.3,1054.34 L2119.1,1054.49 L2121.9,1054.64 L2124.8,1054.79 L2127.6,1054.94 L2130.5,1055.09 L2133.3,1055.24 L2136.1,1055.39 L2139.0,1055.54 L2141.8,1055.69 L2144.6,1055.84 L2147.5,1055.99 L2150.3,1056.15 L2153.1,1056.30 L2156.0,1056.45 L2158.8,1056.60 L2161.6,1056.75 L2164.5,1056.90 L2167.3,1057.05 L2170.1,1057.20 L2173.0,1057.35 L2175.8,1057.49 L2178.6,1057.64 L2181.5,1057.78 L2184.3,1057.93 L2187.2,1058.07 L2190.0,1058.21 L2192.9,1058.34 L2195.7,1058.48 L2198.6,1058.61 L2201.4,1058.75 L2204.3,1058.88 L2207.1,1059.00 L2210.0,1059.13 L2212.9,1059.25 L2215.7,1059.37 L2218.6,1059.49 L2221.5,1059.60 L2224.4,1059.71 L2227.2,1059.82 L2230.1,1059.92 L2233.0,1060.02 L2235.9,1060.12 L2238.8,1060.22 L2241.7,1060.31 L2244.6,1060.39 L2247.5,1060.48 L2250.4,1060.55 L2253.4,1060.63 L2256.3,1060.70 L2259.2,1060.76 L2262.1,1060.83 L2265.1,1060.88 L2268.0,1060.93 L2271.0,1060.98 L2273.9,1061.02 L2276.9,1061.06 L2279.8,1061.09 L2282.8,1061.12 L2285.8,1061.14 L2288.8,1061.16 L2291.8,1061.17 L2294.8,1061.17 L2297.8,1061.17 L2300.8,1061.16 L2303.8,1061.15 L2306.8,1061.13 L2309.8,1061.10 L2312.9,1061.07 L2315.9,1061.03 L2319.0,1060.99 L2322.0,1060.93 L2325.1,1060.88 L2328.2,1060.81 L2330.2,1060.76" stroke="#00ff00"/>
<path d="M510.0,53.58 L510.4,55.97 L510.7,58.36 L511.1,60.74 L511.5,63.12 L511.9,65.49 L512.3,67.86 L512.7,70.22 L513.1,72.57 L513.5,74.92 L513.9,77.27 L514.4,79.60 L514.8,81.94 L515.2,84.27 L515.7,86.59 L516.1,88.91 L516.6,91.22 L517.1,93.53 L517.5,95.83 L518.0,98.12 L518.5,100.42 L519.0,102.70 L519.5,104.98 L520.0,107.26 L520.5,109.53 L521.0,111.79 L521.5,114.06 L522.0,116.31 L522.5,118.56 L523.1,120.81 L523.6,123.05 L524.1,125.28 L524.7,127.51 L525.2,129.74 L525.8,131.96 L526.3,134.17 L526.9,136.38 L527.5,138.59 L528.1,140.79 L528.7,142.99 L529.2,145.18 L529.8,147.36 L530.4,149.55 L531.0,151.72 L531.7,153.90 L532.3,156.06 L532.9,158.22 L533.5,160.38 L534.1,162.54 L534.8,164.68 L535.4,166.83 L536.1,168.97 L536.7,171.10 L537.4,173.23 L538.0,175.36 L538.7,177.48 L539.4,179.59 L540.1,181.71 L540.7,183.81 L541.4,185.91 L542.1,188.01 L542.8,190.11 L543.5,192.20 L544.2,194.28 L544.9,196.36 L545.7,198.44 L546.4,200.51 L547.1,202.58 L547.8,204.64 L548.6,206.70 L549.3,208.75 L550.1,210.80 L550.8,212.85 L551.6,214.89 L552.3,216.93 L553.1,218.96 L553.8,220.99 L554.6,223.01 L555.4,225.03 L556.2,227.05 L557.0,229.06 L557.8,231.07 L558.6,233.08 L559.4,235.08 L560.2,237.07 L561.0,239.06 L561.8,241.05 L562.6,243.04 L563.4,245.02 L564.2,246.99 L565.1,248.96 L565.9,250.93 L566.8,252.90 L567.6,254.86 L568.4,256.81 L569.3,258.77 L570.1,260.72 L571.0,262.66 L571.9,264.60 L572.7,266.54 L573.6,268.47 L574.5,270.40 L575.4,272.33 L576.3,274.25 L577.1,276.17 L578.0,278.09 L578.9,280.00 L579.8,281.91 L580.7,283.81 L581.7,285.71 L582.6,287.61 L583.5,289.50 L584.4,291.39 L585.3,293.28 L586.3,295.16 L587.2,297.04 L588.1,298.92 L589.1,300.79 L590.0,302.66 L591.0,304.53 L591.9,306.39 L592.9,308.25 L593.8,310.10 L594.8,311.96 L595.8,313.81 L596.7,315.65 L597.7,317.49 L598.7,319.33 L599.7,321.17 L600.6,323.00 L601.6,324.83 L602.6,326.66 L603.6,328.48 L604.6,330.30 L605.6,332.12 L606.6,333.93 L607.6,335.74 L608.6,337.55 L609.6,339.35 L610.7,341.16 L611.7,342.95 L612.7,344.75 L613.7,346.54 L614.8,348.33 L615.8,350.12 L616.8,351.90 L617.9,353.68 L618.9,355.46 L620.0,357.23 L621.0,359.01 L622.1,360.77 L623.1,362.54 L624.2,364.30 L625.3,366.06 L626.3,367.82 L627.4,369.58 L628.5,371.33 L629.6,373.08 L630.6,374.83 L631.7,376.57 L632.8,378.31 L633.9,380.05 L635.0,381.79 L636.1,383.52 L637.2,385.25 L638.3,386.98 L639.4,388.71 L640.5,390.43 L641.6,392.15 L642.7,393.87 L643.8,395.58 L644.9,397.30 L646.0,399.01 L647.2,400.72 L648.3,402.42 L649.4,404.13 L650.5,405.83 L651.7,407.53 L652.8,409.22 L653.9,410.92 L655.1,412.61 L656.2,414.30 L657.4,415.98 L658.5,417.67 L659.7,419.35 L660.8,421.03 L662.0,422.71 L663.1,424.39 L664.3,426.06 L665.4,427.73 L666.6,429.40 L667.8,431.07 L668.9,432.74 L670.1,434.40 L671.3,436.06 L672.4,437.72 L673.6,439.38 L674.8,441.03 L676.0,442.68 L677.2,444.34 L678.4,445.99 L679.5,447.63 L680.7,449.28 L681.9,450.92 L683.1,452.56 L684.3,454.20 L685.5,455.84 L686.7,457.48 L687.9,459.11 L689.1,460.74 L690.3,462.38 L691.5,464.00 L692.7,465.63 L694.0,467.26 L695.2,468.88 L696.4,470.50 L697.6,472.12 L698.8,473.74 L700.0,475.36 L701.3,476.98 L702.5,478.59 L703.7,480.20 L704.9,481.81 L706.2,483.42 L707.4,485.03 L708.6,486.64 L709.9,488.24 L711.1,489.85 L712.3,491.45 L713.6,493.05 L714.8,494.65 L716.1,496.24 L717.3,497.84 L718.6,499.44 L719.8,501.03 L721.1,502.62 L722.3,504.21 L723.6,505.80 L724.8,507.39 L726.1,508.98 L727.3,510.57 L728.6,512.15 L729.8,513.73 L731.1,515.32 L732.4,516.90 L733.6,518.47 L734.9,520.05 L736.1,521.63 L737.4,523.20 L738.7,524.78 L740.0,526.35 L741.2,527.92 L742.5,529.48 L743.8,531.05 L745.1,532.61 L746.3,534.18 L747.6,535.74 L748.9,537.29 L750.2,538.85 L751.5,540.40 L752.8,541.96 L754.1,543.51 L755.4,545.05 L756.7,546.60 L758.0,548.14 L759.3,549.68 L760.6,551.22 L761.9,552.76 L763.2,554.29 L764.5,555.82 L765.9,557.35 L767.2,558.88 L768.5,560.40 L769.8,561.92 L771.2,563.44 L772.5,564.96 L773.8,566.47 L775.2,567.98 L776.5,569.49 L777.8,570.99 L779.2,572.49 L780.5,573.99 L781.9,575.49 L783.3,576.98 L784.6,578.47 L786.0,579.95 L787.4,581.44 L788.7,582.92 L790.1,584.39 L791.5,585.87 L792.9,587.34 L794.3,588.80 L795.6,590.27 L797.0,591.73 L798.4,593.18 L799.8,594.63 L801.2,596.08 L802.7,597.53 L804.1,598.97 L805.5,600.41 L806.9,601.84 L808.3,603.27 L809.8,604.70 L811.2,606.12 L812.6,607.54 L814.1,608.95 L815.5,610.37 L817.0,611.77 L818.4,613.17 L819.9,614.57 L821.4,615.97 L822.8,617.36 L824.3,618.74 L825.8,620.12 L827.3,621.50 L828.8,622.87 L830.3,624.24 L831.8,625.61 L833.3,626.97 L834.8,628.32 L836.3,629.67 L837.8,631.02 L839.3,632.36 L840.9,633.69 L842.4,635.02 L844.0,636.35 L845.5,637.67 L847.0,638.99 L848.6,640.30 L850.2,641.61 L851.7,642.91 L853.3,644.21 L854.9,645.50 L856.5,646.79 L858.1,648.07 L859.7,649.34 L861.3,650.61 L862.9,651.88 L864.5,653.14 L866.1,654.40 L867.7,655.64 L869.4,656.89 L871.0,658.13 L872.6,659.36 L874.3,660.59 L875.9,661.81 L877.6,663.03 L879.3,664.24 L881.0,665.44 L882.6,666.64 L884.3,667.83 L886.0,669.02 L887.7,670.20 L889.4,671.38 L891.1,672.54 L892.9,673.71 L894.6,674.86 L896.3,676.01 L898.1,677.15 L899.8,678.29 L901.6,679.42 L903.3,680.54 L905.1,681.66 L906.9,682.76 L908.7,683.86 L910.5,684.96 L912.3,686.04 L914.1,687.12 L915.9,688.19 L917.8,689.25 L919.6,690.31 L921.4,691.36 L923.3,692.39 L925.2,693.42 L927.0,694.45 L928.9,695.46 L930.8,696.47 L932.7,697.46 L934.6,698.45 L936.6,699.43 L938.5,700.40 L940.4,701.36 L942.4,702.31 L944.4,703.26 L946.3,704.19 L948.3,705.11 L950.3,706.03 L952.3,706.94 L954.3,707.83 L956.3,708.73 L958.4,709.61 L960.4,710.49 L962.4,711.37 L964.5,712.24 L966.5,713.11 L968.6,713.98 L970.6,714.86 L972.6,715.73 L974.7,716.60 L976.7,717.48 L978.7,718.36 L980.8,719.24 L982.8,720.13 L984.8,721.03 L986.8,721.93 L988.8,722.84 L990.8,723.76 L992.8,724.69 L994.8,725.59 L996.9,726.44 L999.0,727.21 L1001.3,727.88 L1003.7,728.44 L1006.1,728.93 L1008.6,729.37 L1011.2,729.80 L1013.7,730.24 L1016.2,730.70 L1018.6,731.18 L1021.1,731.67 L1023.6,732.17 L1026.0,732.68 L1028.4,733.19 L1030.9,733.71 L1033.3,734.23 L1035.7,734.75 L1038.1,735.26 L1040.6,735.77 L1043.0,736.27 L1045.5,736.76 L1048.0,737.23 L1050.5,737.69 L1053.0,738.14 L1055.5,738.57 L1058.1,738.98 L1060.6,739.38 L1063.2,739.77 L1065.8,740.13 L1068.4,740.48 L1071.0,740.81 L1073.7,741.12 L1076.4,741.41 L1079.1,741.68 L1081.8,741.93 L1084.6,742.16 L1087.3,742.36 L1090.1,742.54 L1092.9,742.72 L1095.7,742.92 L1098.5,743.16 L1101.1,743.45 L1103.8,743.80 L1106.3,744.19 L1108.8,744.64 L1111.3,745.12 L1113.7,745.63 L1116.2,746.17 L1118.5,746.73 L1120.9,747.30 L1123.3,747.89 L1125.6,748.48 L1128.0,749.08 L1130.3,749.66 L1132.7,750.23 L1135.1,750.79 L1137.5,751.34 L1139.9,751.87 L1142.3,752.39 L1144.8,752.89 L1147.2,753.39 L1149.7,753.87 L1152.2,754.34 L1154.7,754.81 L1157.1,755.26 L1159.7,755.71 L1162.2,756.15 L1164.7,756.59 L1167.2,757.01 L1169.8,757.44 L1172.3,757.86 L1174.8,758.27 L1177.4,758.69 L1179.9,759.10 L1182.5,759.50 L1185.0,759.91 L1187.6,760.32 L1190.1,760.72 L1192.7,761.12 L1195.3,761.52 L1197.8,761.92 L1200.4,762.32 L1202.9,762.72 L1205.5,763.13 L1208.1,763.53 L1210.6,763.93 L1213.2,764.33 L1215.7,764.73 L1218.3,765.14 L1220.8,765.55 L1223.4,765.96 L1225.9,766.37 L1228.5,766.78 L1231.0,767.20 L1233.6,767.62 L1236.1,768.04 L1238.6,768.46 L1241.2,768.89 L1243.7,769.33 L1246.2,769.77 L1248.7,770.21 L1251.2,770.66 L1253.7,771.11 L1256.2,771.57 L1258.7,772.03 L1261.2,772.50 L1263.7,772.98 L1266.1,773.46 L1268.6,773.95 L1271.1,774.44 L1273.5,774.94 L1276.0,775.44 L1278.4,775.94 L1280.9,776.44 L1283.3,776.94 L1285.8,777.44 L1288.2,777.94 L1290.7,778.42 L1293.1,778.91 L1295.6,779.38 L1298.1,779.84 L1300.6,780.30 L1303.1,780.74 L1305.7,781.17 L1308.2,781.58 L1310.8,781.97 L1313.4,782.35 L1316.0,782.71 L1318.6,783.06 L1321.2,783.40 L1323.8,783.73 L1326.5,784.05 L1329.1,784.38 L1331.8,784.70 L1334.4,785.02 L1337.1,785.35 L1339.7,785.69 L1342.3,786.04 L1344.9,786.40 L1347.5,786.78 L1350.0,787.18 L1352.6,787.60 L1355.1,788.04 L1357.6,788.51 L1360.0,789.01 L1362.5,789.53 L1364.8,790.08 L1367.2,790.65 L1369.6,791.25 L1371.9,791.86 L1374.2,792.48 L1376.5,793.12 L1378.8,793.77 L1381.1,794.43 L1383.3,795.09 L1385.6,795.76 L1387.9,796.42 L1390.1,797.09 L1392.4,797.75 L1394.7,798.41 L1397.0,799.06 L1399.3,799.70 L1401.6,800.33 L1403.9,800.94 L1406.2,801.54 L1408.6,802.11 L1411.0,802.66 L1413.4,803.19 L1415.9,803.69 L1418.4,804.17 L1420.9,804.61 L1423.4,805.02 L1426.0,805.39 L1428.6,805.73 L1431.3,806.03 L1434.0,806.32 L1436.7,806.58 L1439.4,806.83 L1442.2,807.08 L1444.9,807.32 L1447.6,807.57 L1450.3,807.82 L1453.0,808.09 L1455.7,808.38 L1458.4,808.70 L1461.0,809.05 L1463.6,809.44 L1466.1,809.87 L1468.6,810.35 L1471.0,810.88 L1473.3,811.47 L1475.6,812.13 L1477.8,812.83 L1480.0,813.59 L1482.1,814.38 L1484.2,815.21 L1486.3,816.06 L1488.3,816.92 L1490.4,817.78 L1492.4,818.65 L1494.5,819.50 L1496.6,820.34 L1498.7,821.15 L1500.8,821.92 L1503.0,822.66 L1505.3,823.34 L1507.6,823.96 L1510.0,824.51 L1512.4,824.99 L1515.0,825.39 L1517.7,825.69 L1520.4,825.90 L1523.3,826.03 L1526.2,826.10 L1529.2,826.15 L1532.1,826.19 L1535.1,826.25 L1537.9,826.37 L1540.7,826.56 L1543.4,826.84 L1546.0,827.21 L1548.5,827.65 L1551.0,828.16 L1553.3,828.72 L1555.7,829.34 L1557.9,830.00 L1560.2,830.69 L1562.4,831.40 L1564.6,832.13 L1566.8,832.88 L1569.0,833.62 L1571.1,834.37 L1573.3,835.11 L1575.5,835.83 L1577.7,836.55 L1580.0,837.24 L1582.2,837.90 L1584.6,838.53 L1586.9,839.13 L1589.3,839.69 L1591.7,840.22 L1594.1,840.72 L1596.6,841.19 L1599.1,841.65 L1601.6,842.09 L1604.2,842.51 L1606.7,842.93 L1609.3,843.34 L1611.8,843.75 L1614.4,844.16 L1616.9,844.57 L1619.4,845.00 L1622.0,845.44 L1624.4,845.90 L1626.9,846.38 L1629.4,846.88 L1631.8,847.41 L1634.2,847.98 L1636.5,848.57 L1638.8,849.18 L1641.1,849.81 L1643.4,850.46 L1645.7,851.13 L1648.0,851.80 L1650.2,852.47 L1652.5,853.14 L1654.7,853.82 L1657.0,854.48 L1659.3,855.13 L1661.6,855.77 L1663.9,856.39 L1666.3,856.99 L1668.6,857.56 L1671.0,858.10 L1673.5,858.60 L1676.0,859.07 L1678.5,859.50 L1681.1,859.89 L1683.7,860.24 L1686.3,860.57 L1689.0,860.87 L1691.7,861.14 L1694.4,861.40 L1697.1,861.63 L1699.9,861.86 L1702.7,862.08 L1705.4,862.29 L1708.2,862.51 L1710.9,862.72 L1713.7,862.94 L1716.4,863.18 L1719.2,863.42 L1721.9,863.69 L1724.6,863.97 L1727.3,864.26 L1729.9,864.56 L1732.6,864.85 L1735.3,865.14 L1738.0,865.41 L1740.7,865.66 L1743.5,865.88 L1746.3,866.07 L1749.1,866.23 L1751.9,866.35 L1754.8,866.46 L1757.8,866.53 L1760.7,866.58 L1763.7,866.62 L1766.6,866.63 L1769.6,866.63 L1772.7,866.62 L1775.7,866.60 L1778.7,866.57 L1781.8,866.53 L1784.8,866.49 L1787.8,866.45 L1790.9,866.41 L1793.9,866.37 L1797.0,866.34 L1800.0,866.32 L1803.0,866.31 L1806.0,866.31 L1809.0,866.32 L1811.9,866.36 L1814.9,866.41 L1817.8,866.49 L1820.7,866.59 L1823.5,866.72 L1826.4,866.87 L1829.2,867.06 L1831.9,867.29 L1834.6,867.54 L1837.3,867.84 L1840.0,868.17 L1842.6,868.53 L1845.1,868.91 L1847.7,869.32 L1850.2,869.74 L1852.7,870.17 L1855.3,870.61 L1857.8,871.06 L1860.3,871.51 L1862.8,871.95 L1865.3,872.38 L1867.9,872.80 L1870.4,873.21 L1873.0,873.59 L1875.6,873.95 L1878.2,874.28 L1880.9,874.57 L1883.6,874.83 L1886.4,875.04 L1889.2,875.21 L1892.1,875.33 L1895.0,875.39 L1898.0,875.40 L1901.1,875.34 L1904.2,875.22 L1907.4,875.03 L1910.7,874.79 L1914.0,874.49 L1917.4,874.15 L1920.8,873.77 L1924.2,873.36 L1927.7,872.93 L1931.2,872.47 L1934.7,872.00 L1938.3,871.52 L1941.8,871.05 L1945.3,870.58 L1948.8,870.12 L1952.3,869.67 L1955.8,869.25 L1959.2,868.86 L1962.6,868.49 L1966.0,868.14 L1969.3,867.84 L1972.6,867.56 L1975.9,867.32 L1979.1,867.12 L1982.3,866.96 L1985.4,866.84 L1988.5,866.77 L1991.5,866.75 L1994.5,866.78 L1997.4,866.86 L2000.2,867.00 L2003.0,867.19 L2005.8,867.44 L2008.4,867.72 L2011.1,868.04 L2013.7,868.39 L2016.3,868.75 L2018.9,869.13 L2021.5,869.51 L2024.1,869.88 L2026.7,870.24 L2029.3,870.57 L2032.0,870.88 L2034.7,871.15 L2037.4,871.38 L2040.2,871.55 L2043.1,871.66 L2046.1,871.70 L2049.1,871.66 L2052.2,871.54 L2055.5,871.32 L2058.8,871.00 L2062.3,870.58 L2065.9,870.05 L2069.6,869.43 L2073.4,868.71 L2077.2,867.90 L2081.2,867.02 L2085.3,866.05 L2089.4,865.02 L2093.6,863.92 L2097.9,862.76 L2102.2,861.55 L2106.6,860.29 L2111.0,859.02 L2115.4,857.75 L2119.8,856.51 L2124.1,855.33 L2128.3,854.22 L2132.4,853.21 L2136.4,852.33 L2140.2,851.59 L2143.8,851.00 L2147.3,850.56 L2150.7,850.25 L2153.9,850.06 L2157.0,849.98 L2159.9,849.99 L2162.8,850.09 L2165.6,850.27 L2168.4,850.51 L2171.1,850.80 L2173.7,851.13 L2176.3,851.49 L2178.9,851.87 L2181.5,852.26 L2184.0,852.64 L2186.6,853.00 L2189.3,853.34 L2191.9,853.64 L2194.7,853.89 L2197.5,854.07 L2200.3,854.19 L2203.3,854.22 L2206.3,854.17 L2209.5,854.04 L2212.8,853.80 L2216.1,853.47 L2219.6,853.03 L2223.2,852.48 L2226.9,851.82 L2230.8,851.03 L2234.8,850.12 L2239.0,849.08 L2243.2,847.90 L2247.7,846.61 L2252.2,845.25 L2256.7,843.85 L2261.3,842.43 L2265.8,841.02 L2270.3,839.67 L2274.7,838.40 L2279.0,837.24 L2283.1,836.21 L2287.1,835.30 L2291.0,834.51 L2294.7,833.82 L2298.4,833.22 L2301.9,832.72 L2305.4,832.30 L2308.8,831.95 L2312.1,831.66 L2315.4,831.42 L2318.6,831.24 L2321.7,831.08 L2324.9,830.96 L2328.0,830.86 L2329.8,830.81" stroke="#ff00ff"/>
</g></g>
<g stroke-width="12.2" stroke-linecap="round">
<line x1="1926" y1="154.6" x2="2151" y2="154.6" stroke="#000000"/>
<line x1="1926" y1="281.8" x2="2151" y2="281.8" stroke="#ff0000"/>
<line x1="1926" y1="408.9" x2="2151" y2="408.9" stroke="#0000ff"/>
<line x1="1926" y1="536.1" x2="2151" y2="536.1" stroke="#00ff00"/>
<line x1="1926" y1="663.2" x2="2151" y2="663.2" stroke="#ff00ff"/>
</g>
<g font-size="70">
<text transform="translate(336.8,1534.5) scale(0.98,1.04)" text-anchor="end">0.0</text>
<text transform="translate(336.8,1248.2) scale(0.98,1.04)" text-anchor="end">0.1</text>
<text transform="translate(336.8,961.9) scale(0.98,1.04)" text-anchor="end">0.2</text>
<text transform="translate(336.8,675.6) scale(0.98,1.04)" text-anchor="end">0.3</text>
<text transform="translate(336.8,389.3) scale(0.98,1.04)" text-anchor="end">0.4</text>
<text transform="translate(336.8,103.0) scale(0.98,1.04)" text-anchor="end">0.5</text>
<text transform="translate(599.5,1618.5) scale(0.99,1.04)" text-anchor="middle">400</text>
<text transform="translate(1031.0,1618.5) scale(0.99,1.04)" text-anchor="middle">500</text>
<text transform="translate(1462.5,1618.5) scale(0.99,1.04)" text-anchor="middle">600</text>
<text transform="translate(1894.0,1618.5) scale(0.99,1.04)" text-anchor="middle">700</text>
<text transform="translate(2325.5,1618.5) scale(0.99,1.04)" text-anchor="middle">800</text>
</g>
<g font-size="97.5">
<text transform="translate(2180,189.6) scale(1.05,1)">(a)</text>
<text transform="translate(2180,316.8) scale(1.05,1)">(b)</text>
<text transform="translate(2180,443.9) scale(1.05,1)">(c)</text>
<text transform="translate(2180,571.1) scale(1.05,1)">(d)</text>
<text transform="translate(2180,698.2) scale(1.05,1)">(e)</text>
</g>
<text transform="translate(951,1770) scale(1.02,1)" font-size="99">Wavelength (nm)</text>
<text transform="translate(116,1091.3) rotate(-90)" font-size="102.6">Extinction</text>
</g>
</svg>
</body></html>
